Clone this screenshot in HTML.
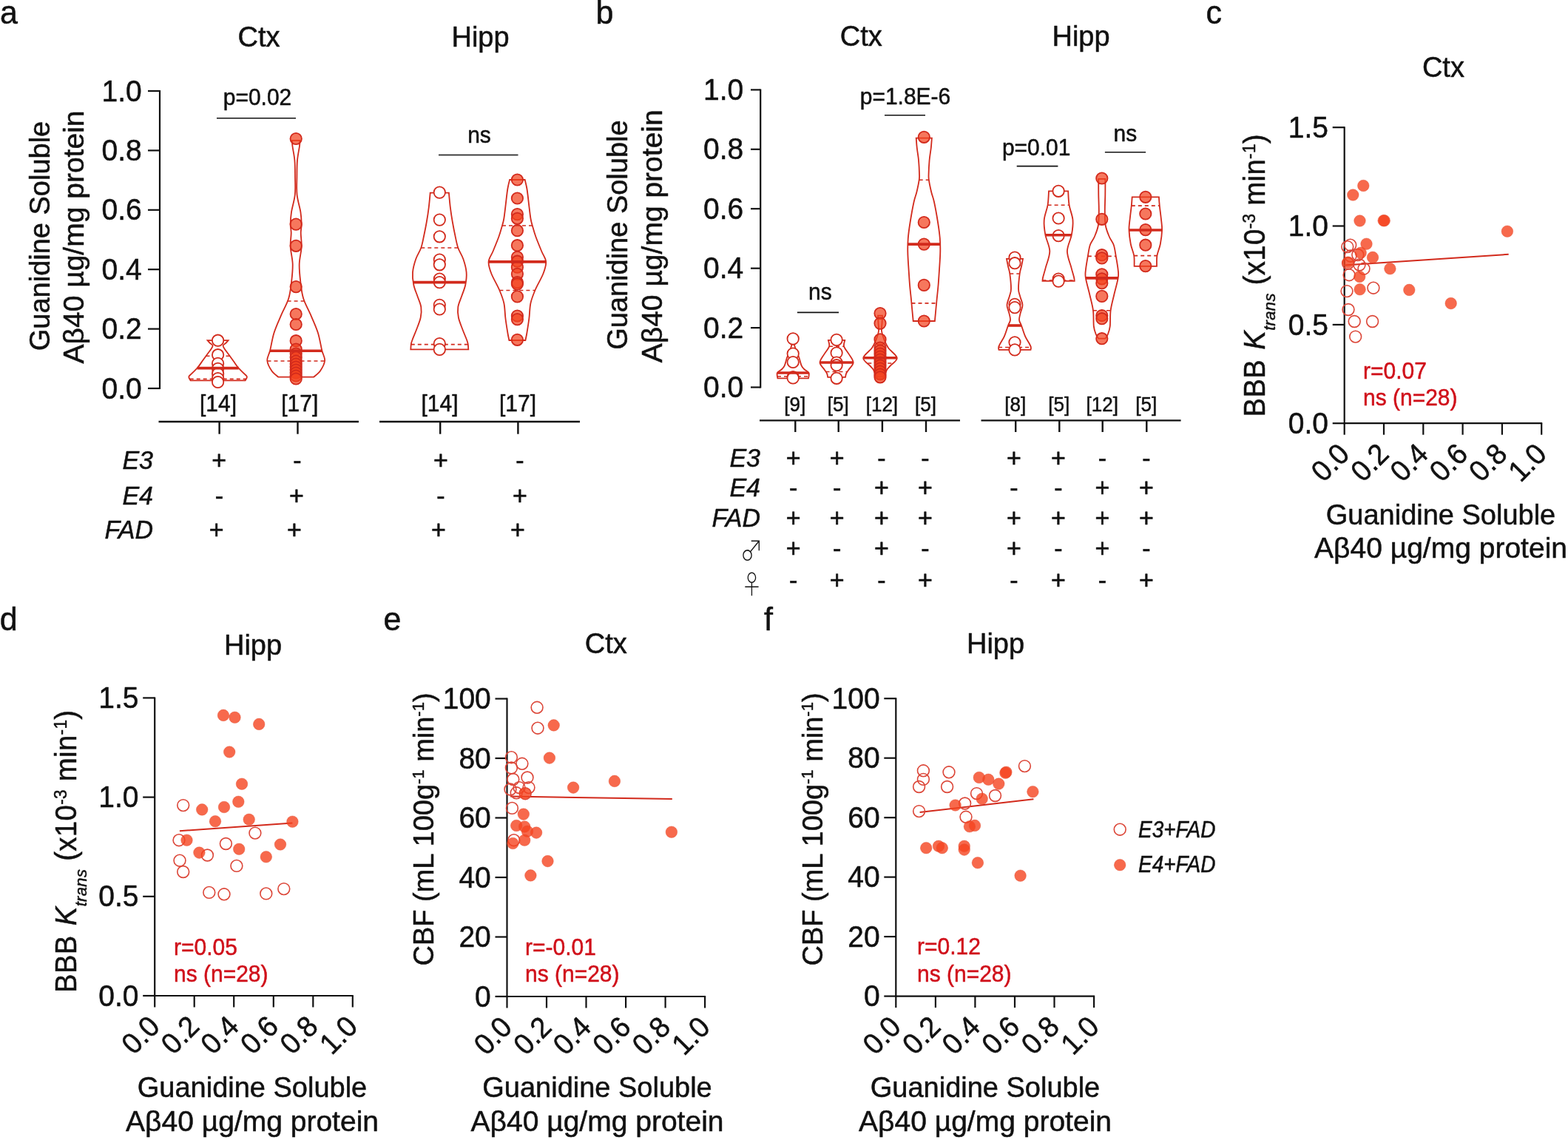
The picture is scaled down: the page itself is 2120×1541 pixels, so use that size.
<!DOCTYPE html>
<html><head><meta charset="utf-8"><title>Figure</title>
<style>html,body{margin:0;padding:0;background:#fff;} svg{display:block;} text{stroke-width:0.5px;stroke-linejoin:round;}</style></head>
<body>
<svg width="2120" height="1541" viewBox="0 0 2120 1541" font-family="'Liberation Sans', Arial, sans-serif">
<rect width="2120" height="1541" fill="#fff"/>
<text transform="translate(0.0,32.0) scale(1,1.04)" font-size="43" text-anchor="start" fill="#111" stroke="#111" >a</text>
<text transform="translate(350.0,62.5) scale(1,1.04)" font-size="38" text-anchor="middle" fill="#111" stroke="#111" >Ctx</text>
<text transform="translate(649.5,63.3) scale(1,1.04)" font-size="38" text-anchor="middle" fill="#111" stroke="#111" >Hipp</text>
<line x1="216.0" y1="122.0" x2="216.0" y2="526.0" stroke="#111" stroke-width="2.2" />
<line x1="200.0" y1="525.0" x2="216.0" y2="525.0" stroke="#111" stroke-width="2.2" />
<text transform="translate(191.8,538.6) scale(1,1.04)" font-size="39" text-anchor="end" fill="#111" stroke="#111" >0.0</text>
<line x1="200.0" y1="444.6" x2="216.0" y2="444.6" stroke="#111" stroke-width="2.2" />
<text transform="translate(191.8,458.2) scale(1,1.04)" font-size="39" text-anchor="end" fill="#111" stroke="#111" >0.2</text>
<line x1="200.0" y1="364.2" x2="216.0" y2="364.2" stroke="#111" stroke-width="2.2" />
<text transform="translate(191.8,377.8) scale(1,1.04)" font-size="39" text-anchor="end" fill="#111" stroke="#111" >0.4</text>
<line x1="200.0" y1="283.8" x2="216.0" y2="283.8" stroke="#111" stroke-width="2.2" />
<text transform="translate(191.8,297.4) scale(1,1.04)" font-size="39" text-anchor="end" fill="#111" stroke="#111" >0.6</text>
<line x1="200.0" y1="203.4" x2="216.0" y2="203.4" stroke="#111" stroke-width="2.2" />
<text transform="translate(191.8,217.0) scale(1,1.04)" font-size="39" text-anchor="end" fill="#111" stroke="#111" >0.8</text>
<line x1="200.0" y1="123.0" x2="216.0" y2="123.0" stroke="#111" stroke-width="2.2" />
<text transform="translate(191.8,136.6) scale(1,1.04)" font-size="39" text-anchor="end" fill="#111" stroke="#111" >1.0</text>
<text transform="translate(67.0,319.0) rotate(-90) scale(1,1.04)" font-size="38" text-anchor="middle" fill="#111" stroke="#111" >Guanidine Soluble</text>
<text transform="translate(113.0,320.5) rotate(-90) scale(1,1.04)" font-size="38" text-anchor="middle" fill="#111" stroke="#111" textLength="342" lengthAdjust="spacingAndGlyphs">Aβ40 µg/mg protein</text>
<line x1="214.5" y1="570.0" x2="485.0" y2="570.0" stroke="#111" stroke-width="2.4" />
<line x1="513.0" y1="570.0" x2="784.0" y2="570.0" stroke="#111" stroke-width="2.4" />
<line x1="296.6" y1="570.0" x2="296.6" y2="586.7" stroke="#111" stroke-width="2.4" />
<line x1="402.5" y1="570.0" x2="402.5" y2="586.7" stroke="#111" stroke-width="2.4" />
<line x1="595.2" y1="570.0" x2="595.2" y2="586.7" stroke="#111" stroke-width="2.4" />
<line x1="700.4" y1="570.0" x2="700.4" y2="586.7" stroke="#111" stroke-width="2.4" />
<text transform="translate(295.0,555.8) scale(1,1.04)" font-size="30" text-anchor="middle" fill="#111" stroke="#111" >[14]</text>
<text transform="translate(405.3,555.8) scale(1,1.04)" font-size="30" text-anchor="middle" fill="#111" stroke="#111" >[17]</text>
<text transform="translate(594.5,555.8) scale(1,1.04)" font-size="30" text-anchor="middle" fill="#111" stroke="#111" >[14]</text>
<text transform="translate(700.0,555.8) scale(1,1.04)" font-size="30" text-anchor="middle" fill="#111" stroke="#111" >[17]</text>
<text transform="translate(348.0,142.0) scale(1,1.04)" font-size="30" text-anchor="middle" fill="#111" stroke="#111" >p=0.02</text>
<line x1="293.0" y1="159.8" x2="400.0" y2="159.8" stroke="#111" stroke-width="1.6" />
<text transform="translate(648.0,192.5) scale(1,1.04)" font-size="30" text-anchor="middle" fill="#111" stroke="#111" >ns</text>
<line x1="593.0" y1="209.5" x2="700.5" y2="209.5" stroke="#111" stroke-width="1.6" />
<text transform="translate(207.0,634.4) scale(1,1.04)" font-size="34" text-anchor="end" fill="#111" stroke="#111" font-style="italic" >E3</text>
<text transform="translate(207.0,681.8) scale(1,1.04)" font-size="34" text-anchor="end" fill="#111" stroke="#111" font-style="italic" >E4</text>
<text transform="translate(207.0,728.2) scale(1,1.04)" font-size="34" text-anchor="end" fill="#111" stroke="#111" font-style="italic" >FAD</text>
<text transform="translate(296.2,634.4) scale(1,1.04)" font-size="34" text-anchor="middle" fill="#111" stroke="#111" style="stroke-width:0.6px">+</text>
<text transform="translate(402.0,634.4) scale(1,1.04)" font-size="34" text-anchor="middle" fill="#111" stroke="#111" style="stroke-width:0.6px">-</text>
<text transform="translate(596.0,634.4) scale(1,1.04)" font-size="34" text-anchor="middle" fill="#111" stroke="#111" style="stroke-width:0.6px">+</text>
<text transform="translate(703.0,634.4) scale(1,1.04)" font-size="34" text-anchor="middle" fill="#111" stroke="#111" style="stroke-width:0.6px">-</text>
<text transform="translate(296.5,681.8) scale(1,1.04)" font-size="34" text-anchor="middle" fill="#111" stroke="#111" style="stroke-width:0.6px">-</text>
<text transform="translate(401.0,681.8) scale(1,1.04)" font-size="34" text-anchor="middle" fill="#111" stroke="#111" style="stroke-width:0.6px">+</text>
<text transform="translate(596.0,681.8) scale(1,1.04)" font-size="34" text-anchor="middle" fill="#111" stroke="#111" style="stroke-width:0.6px">-</text>
<text transform="translate(703.0,681.8) scale(1,1.04)" font-size="34" text-anchor="middle" fill="#111" stroke="#111" style="stroke-width:0.6px">+</text>
<text transform="translate(292.7,728.2) scale(1,1.04)" font-size="34" text-anchor="middle" fill="#111" stroke="#111" style="stroke-width:0.6px">+</text>
<text transform="translate(398.0,728.2) scale(1,1.04)" font-size="34" text-anchor="middle" fill="#111" stroke="#111" style="stroke-width:0.6px">+</text>
<text transform="translate(593.0,728.2) scale(1,1.04)" font-size="34" text-anchor="middle" fill="#111" stroke="#111" style="stroke-width:0.6px">+</text>
<text transform="translate(700.0,728.2) scale(1,1.04)" font-size="34" text-anchor="middle" fill="#111" stroke="#111" style="stroke-width:0.6px">+</text>
<path d="M308.6,460.2 C308.1,460.8 306.8,462.3 305.6,463.5 C304.4,464.7 301.8,465.6 301.6,467.2 C301.4,468.8 303.3,470.9 304.6,473.0 C305.9,475.1 307.8,477.2 309.6,479.7 C311.4,482.2 313.6,485.1 315.6,488.0 C317.7,490.9 319.6,494.0 321.9,496.8 C324.2,499.6 327.6,502.5 329.6,504.6 C331.6,506.7 333.6,507.7 333.9,509.3 C334.2,510.9 332.0,513.5 331.6,514.3 L257.6,514.3 C257.2,513.5 255.0,510.9 255.3,509.3 C255.6,507.7 257.6,506.7 259.6,504.6 C261.6,502.5 265.0,499.6 267.3,496.8 C269.6,494.0 271.6,490.9 273.6,488.0 C275.7,485.1 277.8,482.2 279.6,479.7 C281.4,477.2 283.3,475.1 284.6,473.0 C285.9,470.9 287.8,468.8 287.6,467.2 C287.4,465.6 284.8,464.7 283.6,463.5 C282.4,462.3 281.1,460.8 280.6,460.2 Z" fill="none" stroke="#D22A1C" stroke-width="1.8"/>
<line x1="278.5" y1="481.2" x2="310.7" y2="481.2" stroke="#D22A1C" stroke-width="1.6" stroke-dasharray="5,4"/>
<line x1="256.7" y1="512.4" x2="332.5" y2="512.4" stroke="#D22A1C" stroke-width="1.6" stroke-dasharray="5,4"/>
<circle cx="294.6" cy="460.2" r="7.7" fill="#fff" stroke="#D22A1C" stroke-width="1.8"/>
<circle cx="294.6" cy="479.7" r="7.7" fill="#fff" stroke="#D22A1C" stroke-width="1.8"/>
<circle cx="294.6" cy="491.4" r="7.7" fill="#fff" stroke="#D22A1C" stroke-width="1.8"/>
<circle cx="294.6" cy="498.4" r="7.7" fill="#fff" stroke="#D22A1C" stroke-width="1.8"/>
<circle cx="294.6" cy="505.0" r="7.7" fill="#fff" stroke="#D22A1C" stroke-width="1.8"/>
<circle cx="294.6" cy="511.6" r="7.7" fill="#fff" stroke="#D22A1C" stroke-width="1.8"/>
<circle cx="294.6" cy="516.5" r="7.7" fill="#fff" stroke="#D22A1C" stroke-width="1.8"/>
<line x1="266.5" y1="497.6" x2="322.7" y2="497.6" stroke="#D22A1C" stroke-width="3.6" />
<path d="M405.5,189.8 C405.4,191.2 405.5,193.5 404.9,198.0 C404.3,202.5 402.6,209.7 402.0,216.7 C401.4,223.7 401.5,232.2 401.4,240.0 C401.3,247.8 400.8,255.6 401.6,263.4 C402.4,271.2 405.4,280.1 406.4,286.7 C407.4,293.3 407.6,298.3 407.7,303.0 C407.8,307.7 406.7,309.7 406.7,314.8 C406.7,319.9 408.0,326.4 407.7,333.4 C407.4,340.4 404.9,349.0 404.7,356.8 C404.4,364.6 405.3,372.2 406.2,380.0 C407.1,387.8 407.8,395.7 410.2,403.5 C412.6,411.3 417.3,419.0 420.6,426.8 C423.9,434.6 427.6,442.4 430.0,450.2 C432.4,458.0 433.7,467.3 435.2,473.5 C436.7,479.7 439.5,482.8 439.1,487.5 C438.7,492.2 435.4,497.8 432.9,501.5 C430.4,505.2 425.6,508.3 424.2,509.7 L376.2,509.7 C374.8,508.3 370.0,505.2 367.5,501.5 C365.0,497.8 361.7,492.2 361.3,487.5 C360.9,482.8 363.7,479.7 365.2,473.5 C366.7,467.3 368.0,458.0 370.4,450.2 C372.8,442.4 376.5,434.6 379.8,426.8 C383.1,419.0 387.8,411.3 390.2,403.5 C392.6,395.7 393.3,387.8 394.2,380.0 C395.1,372.2 395.9,364.6 395.7,356.8 C395.4,349.0 393.0,340.4 392.7,333.4 C392.4,326.4 393.7,319.9 393.7,314.8 C393.7,309.7 392.6,307.7 392.7,303.0 C392.8,298.3 393.0,293.3 394.0,286.7 C395.0,280.1 398.0,271.2 398.8,263.4 C399.6,255.6 399.1,247.8 399.0,240.0 C398.9,232.2 399.0,223.7 398.4,216.7 C397.8,209.7 396.1,202.5 395.5,198.0 C394.9,193.5 395.0,191.2 394.9,189.8 Z" fill="none" stroke="#D22A1C" stroke-width="1.8"/>
<line x1="388.6" y1="407.0" x2="411.8" y2="407.0" stroke="#D22A1C" stroke-width="1.6" stroke-dasharray="5,4"/>
<line x1="361.5" y1="488.0" x2="438.9" y2="488.0" stroke="#D22A1C" stroke-width="1.6" stroke-dasharray="5,4"/>
<circle cx="400.2" cy="187.5" r="7.7" fill="#F3421F" fill-opacity="0.72" stroke="#D22A1C" stroke-width="1.8"/>
<circle cx="400.2" cy="303.1" r="7.7" fill="#F3421F" fill-opacity="0.72" stroke="#D22A1C" stroke-width="1.8"/>
<circle cx="400.2" cy="332.3" r="7.7" fill="#F3421F" fill-opacity="0.72" stroke="#D22A1C" stroke-width="1.8"/>
<circle cx="400.2" cy="387.6" r="7.7" fill="#F3421F" fill-opacity="0.72" stroke="#D22A1C" stroke-width="1.8"/>
<circle cx="400.2" cy="424.5" r="7.7" fill="#F3421F" fill-opacity="0.72" stroke="#D22A1C" stroke-width="1.8"/>
<circle cx="400.2" cy="438.5" r="7.7" fill="#F3421F" fill-opacity="0.72" stroke="#D22A1C" stroke-width="1.8"/>
<circle cx="400.2" cy="460.7" r="7.7" fill="#F3421F" fill-opacity="0.72" stroke="#D22A1C" stroke-width="1.8"/>
<circle cx="400.2" cy="472.0" r="7.7" fill="#F3421F" fill-opacity="0.72" stroke="#D22A1C" stroke-width="1.8"/>
<circle cx="400.2" cy="478.0" r="7.7" fill="#F3421F" fill-opacity="0.72" stroke="#D22A1C" stroke-width="1.8"/>
<circle cx="400.2" cy="483.0" r="7.7" fill="#F3421F" fill-opacity="0.72" stroke="#D22A1C" stroke-width="1.8"/>
<circle cx="400.2" cy="488.0" r="7.7" fill="#F3421F" fill-opacity="0.72" stroke="#D22A1C" stroke-width="1.8"/>
<circle cx="400.2" cy="492.0" r="7.7" fill="#F3421F" fill-opacity="0.72" stroke="#D22A1C" stroke-width="1.8"/>
<circle cx="400.2" cy="496.0" r="7.7" fill="#F3421F" fill-opacity="0.72" stroke="#D22A1C" stroke-width="1.8"/>
<circle cx="400.2" cy="500.0" r="7.7" fill="#F3421F" fill-opacity="0.72" stroke="#D22A1C" stroke-width="1.8"/>
<circle cx="400.2" cy="504.0" r="7.7" fill="#F3421F" fill-opacity="0.72" stroke="#D22A1C" stroke-width="1.8"/>
<circle cx="400.2" cy="508.0" r="7.7" fill="#F3421F" fill-opacity="0.72" stroke="#D22A1C" stroke-width="1.8"/>
<circle cx="400.2" cy="512.0" r="7.7" fill="#F3421F" fill-opacity="0.72" stroke="#D22A1C" stroke-width="1.8"/>
<line x1="365.0" y1="474.2" x2="435.4" y2="474.2" stroke="#D22A1C" stroke-width="3.6" />
<path d="M606.9,260.6 C607.2,263.8 608.0,273.4 608.8,280.0 C609.6,286.6 610.7,293.7 611.8,300.0 C612.9,306.3 614.0,312.2 615.3,318.0 C616.5,323.8 617.5,329.7 619.3,335.0 C621.1,340.3 624.4,344.5 626.3,350.0 C628.2,355.5 630.1,362.2 630.6,368.0 C631.1,373.8 630.3,379.7 629.3,385.0 C628.2,390.3 626.0,395.0 624.3,400.0 C622.6,405.0 620.0,410.1 619.3,415.0 C618.6,419.9 618.9,424.3 619.9,429.3 C620.9,434.3 623.4,439.9 625.3,445.0 C627.2,450.1 630.0,456.6 631.3,460.0 C632.5,463.4 632.5,463.5 632.8,465.6 C633.1,467.7 633.2,471.3 633.3,472.4 L555.3,472.4 C555.4,471.3 555.5,467.7 555.8,465.6 C556.1,463.5 556.0,463.4 557.3,460.0 C558.5,456.6 561.4,450.1 563.3,445.0 C565.2,439.9 567.7,434.3 568.7,429.3 C569.7,424.3 570.0,419.9 569.3,415.0 C568.6,410.1 566.0,405.0 564.3,400.0 C562.6,395.0 560.3,390.3 559.3,385.0 C558.2,379.7 557.5,373.8 558.0,368.0 C558.5,362.2 560.4,355.5 562.3,350.0 C564.2,344.5 567.5,340.3 569.3,335.0 C571.1,329.7 572.0,323.8 573.3,318.0 C574.5,312.2 575.7,306.3 576.8,300.0 C577.9,293.7 579.0,286.6 579.8,280.0 C580.6,273.4 581.4,263.8 581.7,260.6 Z" fill="none" stroke="#D22A1C" stroke-width="1.8"/>
<line x1="569.3" y1="335.0" x2="619.3" y2="335.0" stroke="#D22A1C" stroke-width="1.6" stroke-dasharray="5,4"/>
<line x1="555.8" y1="465.6" x2="632.8" y2="465.6" stroke="#D22A1C" stroke-width="1.6" stroke-dasharray="5,4"/>
<circle cx="594.3" cy="260.1" r="7.7" fill="#fff" stroke="#D22A1C" stroke-width="1.8"/>
<circle cx="594.3" cy="297.1" r="7.7" fill="#fff" stroke="#D22A1C" stroke-width="1.8"/>
<circle cx="594.3" cy="319.8" r="7.7" fill="#fff" stroke="#D22A1C" stroke-width="1.8"/>
<circle cx="594.3" cy="351.0" r="7.7" fill="#fff" stroke="#D22A1C" stroke-width="1.8"/>
<circle cx="594.3" cy="357.8" r="7.7" fill="#fff" stroke="#D22A1C" stroke-width="1.8"/>
<circle cx="594.3" cy="377.0" r="7.7" fill="#fff" stroke="#D22A1C" stroke-width="1.8"/>
<circle cx="594.3" cy="381.6" r="7.7" fill="#fff" stroke="#D22A1C" stroke-width="1.8"/>
<circle cx="594.3" cy="412.3" r="7.7" fill="#fff" stroke="#D22A1C" stroke-width="1.8"/>
<circle cx="594.3" cy="418.0" r="7.7" fill="#fff" stroke="#D22A1C" stroke-width="1.8"/>
<circle cx="594.3" cy="464.5" r="7.7" fill="#fff" stroke="#D22A1C" stroke-width="1.8"/>
<circle cx="594.3" cy="472.4" r="7.7" fill="#fff" stroke="#D22A1C" stroke-width="1.8"/>
<line x1="559.0" y1="381.6" x2="629.6" y2="381.6" stroke="#D22A1C" stroke-width="3.6" />
<path d="M709.7,243.0 C710.1,245.0 711.5,249.7 712.4,255.0 C713.3,260.3 714.1,268.3 714.9,275.0 C715.7,281.7 716.6,290.0 717.4,295.0 C718.2,300.0 718.6,300.8 719.8,305.0 C721.0,309.2 722.3,314.2 724.4,320.0 C726.5,325.8 730.1,334.4 732.4,340.0 C734.7,345.6 737.9,348.9 738.2,353.9 C738.5,358.9 736.9,363.6 734.4,370.0 C731.9,376.4 726.2,385.8 723.4,392.5 C720.6,399.2 718.7,403.8 717.4,410.0 C716.1,416.2 716.2,423.3 715.4,430.0 C714.6,436.7 713.2,445.0 712.4,450.0 C711.6,455.0 710.7,458.3 710.4,460.0 L688.4,460.0 C688.1,458.3 687.2,455.0 686.4,450.0 C685.6,445.0 684.2,436.7 683.4,430.0 C682.6,423.3 682.7,416.2 681.4,410.0 C680.1,403.8 678.2,399.2 675.4,392.5 C672.6,385.8 666.9,376.4 664.4,370.0 C661.9,363.6 660.3,358.9 660.6,353.9 C660.9,348.9 664.1,345.6 666.4,340.0 C668.7,334.4 672.3,325.8 674.4,320.0 C676.5,314.2 677.8,309.2 679.0,305.0 C680.2,300.8 680.6,300.0 681.4,295.0 C682.2,290.0 683.1,281.7 683.9,275.0 C684.7,268.3 685.5,260.3 686.4,255.0 C687.3,249.7 688.6,245.0 689.1,243.0 Z" fill="none" stroke="#D22A1C" stroke-width="1.8"/>
<line x1="679.0" y1="305.0" x2="719.8" y2="305.0" stroke="#D22A1C" stroke-width="1.6" stroke-dasharray="5,4"/>
<line x1="675.4" y1="392.5" x2="723.4" y2="392.5" stroke="#D22A1C" stroke-width="1.6" stroke-dasharray="5,4"/>
<circle cx="699.4" cy="243.0" r="7.7" fill="#F3421F" fill-opacity="0.72" stroke="#D22A1C" stroke-width="1.8"/>
<circle cx="699.4" cy="268.0" r="7.7" fill="#F3421F" fill-opacity="0.72" stroke="#D22A1C" stroke-width="1.8"/>
<circle cx="699.4" cy="289.6" r="7.7" fill="#F3421F" fill-opacity="0.72" stroke="#D22A1C" stroke-width="1.8"/>
<circle cx="699.4" cy="295.3" r="7.7" fill="#F3421F" fill-opacity="0.72" stroke="#D22A1C" stroke-width="1.8"/>
<circle cx="699.4" cy="311.7" r="7.7" fill="#F3421F" fill-opacity="0.72" stroke="#D22A1C" stroke-width="1.8"/>
<circle cx="699.4" cy="331.7" r="7.7" fill="#F3421F" fill-opacity="0.72" stroke="#D22A1C" stroke-width="1.8"/>
<circle cx="699.4" cy="347.5" r="7.7" fill="#F3421F" fill-opacity="0.72" stroke="#D22A1C" stroke-width="1.8"/>
<circle cx="699.4" cy="353.2" r="7.7" fill="#F3421F" fill-opacity="0.72" stroke="#D22A1C" stroke-width="1.8"/>
<circle cx="699.4" cy="361.2" r="7.7" fill="#F3421F" fill-opacity="0.72" stroke="#D22A1C" stroke-width="1.8"/>
<circle cx="699.4" cy="370.3" r="7.7" fill="#F3421F" fill-opacity="0.72" stroke="#D22A1C" stroke-width="1.8"/>
<circle cx="699.4" cy="381.6" r="7.7" fill="#F3421F" fill-opacity="0.72" stroke="#D22A1C" stroke-width="1.8"/>
<circle cx="699.4" cy="383.9" r="7.7" fill="#F3421F" fill-opacity="0.72" stroke="#D22A1C" stroke-width="1.8"/>
<circle cx="699.4" cy="400.9" r="7.7" fill="#F3421F" fill-opacity="0.72" stroke="#D22A1C" stroke-width="1.8"/>
<circle cx="699.4" cy="427.0" r="7.7" fill="#F3421F" fill-opacity="0.72" stroke="#D22A1C" stroke-width="1.8"/>
<circle cx="699.4" cy="431.6" r="7.7" fill="#F3421F" fill-opacity="0.72" stroke="#D22A1C" stroke-width="1.8"/>
<circle cx="699.4" cy="459.3" r="7.7" fill="#F3421F" fill-opacity="0.72" stroke="#D22A1C" stroke-width="1.8"/>
<line x1="660.6" y1="353.9" x2="738.2" y2="353.9" stroke="#D22A1C" stroke-width="3.6" />
<text transform="translate(805.5,32.4) scale(1,1.04)" font-size="43" text-anchor="start" fill="#111" stroke="#111" >b</text>
<text transform="translate(1164.3,62.3) scale(1,1.04)" font-size="38" text-anchor="middle" fill="#111" stroke="#111" >Ctx</text>
<text transform="translate(1461.5,62.3) scale(1,1.04)" font-size="38" text-anchor="middle" fill="#111" stroke="#111" >Hipp</text>
<line x1="1028.2" y1="120.4" x2="1028.2" y2="524.5" stroke="#111" stroke-width="2.2" />
<line x1="1015.0" y1="523.5" x2="1028.2" y2="523.5" stroke="#111" stroke-width="2.2" />
<text transform="translate(1005.3,537.1) scale(1,1.04)" font-size="39" text-anchor="end" fill="#111" stroke="#111" >0.0</text>
<line x1="1015.0" y1="443.1" x2="1028.2" y2="443.1" stroke="#111" stroke-width="2.2" />
<text transform="translate(1005.3,456.7) scale(1,1.04)" font-size="39" text-anchor="end" fill="#111" stroke="#111" >0.2</text>
<line x1="1015.0" y1="362.7" x2="1028.2" y2="362.7" stroke="#111" stroke-width="2.2" />
<text transform="translate(1005.3,376.3) scale(1,1.04)" font-size="39" text-anchor="end" fill="#111" stroke="#111" >0.4</text>
<line x1="1015.0" y1="282.2" x2="1028.2" y2="282.2" stroke="#111" stroke-width="2.2" />
<text transform="translate(1005.3,295.8) scale(1,1.04)" font-size="39" text-anchor="end" fill="#111" stroke="#111" >0.6</text>
<line x1="1015.0" y1="201.8" x2="1028.2" y2="201.8" stroke="#111" stroke-width="2.2" />
<text transform="translate(1005.3,215.4) scale(1,1.04)" font-size="39" text-anchor="end" fill="#111" stroke="#111" >0.8</text>
<line x1="1015.0" y1="121.4" x2="1028.2" y2="121.4" stroke="#111" stroke-width="2.2" />
<text transform="translate(1005.3,135.0) scale(1,1.04)" font-size="39" text-anchor="end" fill="#111" stroke="#111" >1.0</text>
<text transform="translate(847.6,317.6) rotate(-90) scale(1,1.04)" font-size="38" text-anchor="middle" fill="#111" stroke="#111" >Guanidine Soluble</text>
<text transform="translate(895.0,319.3) rotate(-90) scale(1,1.04)" font-size="38" text-anchor="middle" fill="#111" stroke="#111" textLength="342" lengthAdjust="spacingAndGlyphs">Aβ40 µg/mg protein</text>
<line x1="1027.0" y1="568.4" x2="1298.0" y2="568.4" stroke="#111" stroke-width="2.4" />
<line x1="1326.5" y1="568.4" x2="1596.6" y2="568.4" stroke="#111" stroke-width="2.4" />
<line x1="1075.3" y1="568.4" x2="1075.3" y2="584.0" stroke="#111" stroke-width="2.4" />
<line x1="1133.7" y1="568.4" x2="1133.7" y2="584.0" stroke="#111" stroke-width="2.4" />
<line x1="1192.9" y1="568.4" x2="1192.9" y2="584.0" stroke="#111" stroke-width="2.4" />
<line x1="1252.0" y1="568.4" x2="1252.0" y2="584.0" stroke="#111" stroke-width="2.4" />
<line x1="1373.2" y1="568.4" x2="1373.2" y2="584.0" stroke="#111" stroke-width="2.4" />
<line x1="1432.3" y1="568.4" x2="1432.3" y2="584.0" stroke="#111" stroke-width="2.4" />
<line x1="1490.7" y1="568.4" x2="1490.7" y2="584.0" stroke="#111" stroke-width="2.4" />
<line x1="1550.3" y1="568.4" x2="1550.3" y2="584.0" stroke="#111" stroke-width="2.4" />
<text transform="translate(1074.8,555.5) scale(1,1.04)" font-size="26" text-anchor="middle" fill="#111" stroke="#111" >[9]</text>
<text transform="translate(1133.2,555.5) scale(1,1.04)" font-size="26" text-anchor="middle" fill="#111" stroke="#111" >[5]</text>
<text transform="translate(1192.4,555.5) scale(1,1.04)" font-size="26" text-anchor="middle" fill="#111" stroke="#111" >[12]</text>
<text transform="translate(1251.5,555.5) scale(1,1.04)" font-size="26" text-anchor="middle" fill="#111" stroke="#111" >[5]</text>
<text transform="translate(1372.7,555.5) scale(1,1.04)" font-size="26" text-anchor="middle" fill="#111" stroke="#111" >[8]</text>
<text transform="translate(1431.8,555.5) scale(1,1.04)" font-size="26" text-anchor="middle" fill="#111" stroke="#111" >[5]</text>
<text transform="translate(1490.2,555.5) scale(1,1.04)" font-size="26" text-anchor="middle" fill="#111" stroke="#111" >[12]</text>
<text transform="translate(1549.8,555.5) scale(1,1.04)" font-size="26" text-anchor="middle" fill="#111" stroke="#111" >[5]</text>
<text transform="translate(1224.0,141.0) scale(1,1.04)" font-size="30" text-anchor="middle" fill="#111" stroke="#111" >p=1.8E-6</text>
<line x1="1196.0" y1="155.7" x2="1251.0" y2="155.7" stroke="#111" stroke-width="1.6" />
<text transform="translate(1108.8,404.9) scale(1,1.04)" font-size="30" text-anchor="middle" fill="#111" stroke="#111" >ns</text>
<line x1="1077.9" y1="422.4" x2="1134.0" y2="422.4" stroke="#111" stroke-width="1.6" />
<text transform="translate(1401.2,210.2) scale(1,1.04)" font-size="30" text-anchor="middle" fill="#111" stroke="#111" >p=0.01</text>
<line x1="1374.7" y1="224.6" x2="1430.4" y2="224.6" stroke="#111" stroke-width="1.6" />
<text transform="translate(1521.3,190.7) scale(1,1.04)" font-size="30" text-anchor="middle" fill="#111" stroke="#111" >ns</text>
<line x1="1493.9" y1="205.8" x2="1549.1" y2="205.8" stroke="#111" stroke-width="1.6" />
<text transform="translate(1028.0,631.3) scale(1,1.04)" font-size="34" text-anchor="end" fill="#111" stroke="#111" font-style="italic" >E3</text>
<text transform="translate(1028.0,671.1) scale(1,1.04)" font-size="34" text-anchor="end" fill="#111" stroke="#111" font-style="italic" >E4</text>
<text transform="translate(1028.0,712.2) scale(1,1.04)" font-size="34" text-anchor="end" fill="#111" stroke="#111" font-style="italic" >FAD</text>
<text transform="translate(1000.6,757.7) scale(0.92,1.1)" font-size="34" font-family="Noto Serif CJK SC, serif" fill="#111">♂</text>
<text transform="translate(1001.9,802.8) scale(0.85,1.03)" font-size="34" font-family="Noto Serif CJK SC, serif" fill="#111">♀</text>
<text transform="translate(1072.6,631.3) scale(1,1.04)" font-size="34" text-anchor="middle" fill="#111" stroke="#111" style="stroke-width:0.6px">+</text>
<text transform="translate(1131.7,631.3) scale(1,1.04)" font-size="34" text-anchor="middle" fill="#111" stroke="#111" style="stroke-width:0.6px">+</text>
<text transform="translate(1191.8,631.3) scale(1,1.04)" font-size="34" text-anchor="middle" fill="#111" stroke="#111" style="stroke-width:0.6px">-</text>
<text transform="translate(1250.9,631.3) scale(1,1.04)" font-size="34" text-anchor="middle" fill="#111" stroke="#111" style="stroke-width:0.6px">-</text>
<text transform="translate(1371.0,631.3) scale(1,1.04)" font-size="34" text-anchor="middle" fill="#111" stroke="#111" style="stroke-width:0.6px">+</text>
<text transform="translate(1431.0,631.3) scale(1,1.04)" font-size="34" text-anchor="middle" fill="#111" stroke="#111" style="stroke-width:0.6px">+</text>
<text transform="translate(1490.5,631.3) scale(1,1.04)" font-size="34" text-anchor="middle" fill="#111" stroke="#111" style="stroke-width:0.6px">-</text>
<text transform="translate(1549.9,631.3) scale(1,1.04)" font-size="34" text-anchor="middle" fill="#111" stroke="#111" style="stroke-width:0.6px">-</text>
<text transform="translate(1072.6,671.1) scale(1,1.04)" font-size="34" text-anchor="middle" fill="#111" stroke="#111" style="stroke-width:0.6px">-</text>
<text transform="translate(1131.7,671.1) scale(1,1.04)" font-size="34" text-anchor="middle" fill="#111" stroke="#111" style="stroke-width:0.6px">-</text>
<text transform="translate(1191.8,671.1) scale(1,1.04)" font-size="34" text-anchor="middle" fill="#111" stroke="#111" style="stroke-width:0.6px">+</text>
<text transform="translate(1250.9,671.1) scale(1,1.04)" font-size="34" text-anchor="middle" fill="#111" stroke="#111" style="stroke-width:0.6px">+</text>
<text transform="translate(1371.0,671.1) scale(1,1.04)" font-size="34" text-anchor="middle" fill="#111" stroke="#111" style="stroke-width:0.6px">-</text>
<text transform="translate(1431.0,671.1) scale(1,1.04)" font-size="34" text-anchor="middle" fill="#111" stroke="#111" style="stroke-width:0.6px">-</text>
<text transform="translate(1490.5,671.1) scale(1,1.04)" font-size="34" text-anchor="middle" fill="#111" stroke="#111" style="stroke-width:0.6px">+</text>
<text transform="translate(1549.9,671.1) scale(1,1.04)" font-size="34" text-anchor="middle" fill="#111" stroke="#111" style="stroke-width:0.6px">+</text>
<text transform="translate(1072.6,712.2) scale(1,1.04)" font-size="34" text-anchor="middle" fill="#111" stroke="#111" style="stroke-width:0.6px">+</text>
<text transform="translate(1131.7,712.2) scale(1,1.04)" font-size="34" text-anchor="middle" fill="#111" stroke="#111" style="stroke-width:0.6px">+</text>
<text transform="translate(1191.8,712.2) scale(1,1.04)" font-size="34" text-anchor="middle" fill="#111" stroke="#111" style="stroke-width:0.6px">+</text>
<text transform="translate(1250.9,712.2) scale(1,1.04)" font-size="34" text-anchor="middle" fill="#111" stroke="#111" style="stroke-width:0.6px">+</text>
<text transform="translate(1371.0,712.2) scale(1,1.04)" font-size="34" text-anchor="middle" fill="#111" stroke="#111" style="stroke-width:0.6px">+</text>
<text transform="translate(1431.0,712.2) scale(1,1.04)" font-size="34" text-anchor="middle" fill="#111" stroke="#111" style="stroke-width:0.6px">+</text>
<text transform="translate(1490.5,712.2) scale(1,1.04)" font-size="34" text-anchor="middle" fill="#111" stroke="#111" style="stroke-width:0.6px">+</text>
<text transform="translate(1549.9,712.2) scale(1,1.04)" font-size="34" text-anchor="middle" fill="#111" stroke="#111" style="stroke-width:0.6px">+</text>
<text transform="translate(1072.6,752.5) scale(1,1.04)" font-size="34" text-anchor="middle" fill="#111" stroke="#111" style="stroke-width:0.6px">+</text>
<text transform="translate(1131.7,752.5) scale(1,1.04)" font-size="34" text-anchor="middle" fill="#111" stroke="#111" style="stroke-width:0.6px">-</text>
<text transform="translate(1191.8,752.5) scale(1,1.04)" font-size="34" text-anchor="middle" fill="#111" stroke="#111" style="stroke-width:0.6px">+</text>
<text transform="translate(1250.9,752.5) scale(1,1.04)" font-size="34" text-anchor="middle" fill="#111" stroke="#111" style="stroke-width:0.6px">-</text>
<text transform="translate(1371.0,752.5) scale(1,1.04)" font-size="34" text-anchor="middle" fill="#111" stroke="#111" style="stroke-width:0.6px">+</text>
<text transform="translate(1431.0,752.5) scale(1,1.04)" font-size="34" text-anchor="middle" fill="#111" stroke="#111" style="stroke-width:0.6px">-</text>
<text transform="translate(1490.5,752.5) scale(1,1.04)" font-size="34" text-anchor="middle" fill="#111" stroke="#111" style="stroke-width:0.6px">+</text>
<text transform="translate(1549.9,752.5) scale(1,1.04)" font-size="34" text-anchor="middle" fill="#111" stroke="#111" style="stroke-width:0.6px">-</text>
<text transform="translate(1072.6,796.2) scale(1,1.04)" font-size="34" text-anchor="middle" fill="#111" stroke="#111" style="stroke-width:0.6px">-</text>
<text transform="translate(1131.7,796.2) scale(1,1.04)" font-size="34" text-anchor="middle" fill="#111" stroke="#111" style="stroke-width:0.6px">+</text>
<text transform="translate(1191.8,796.2) scale(1,1.04)" font-size="34" text-anchor="middle" fill="#111" stroke="#111" style="stroke-width:0.6px">-</text>
<text transform="translate(1250.9,796.2) scale(1,1.04)" font-size="34" text-anchor="middle" fill="#111" stroke="#111" style="stroke-width:0.6px">+</text>
<text transform="translate(1371.0,796.2) scale(1,1.04)" font-size="34" text-anchor="middle" fill="#111" stroke="#111" style="stroke-width:0.6px">-</text>
<text transform="translate(1431.0,796.2) scale(1,1.04)" font-size="34" text-anchor="middle" fill="#111" stroke="#111" style="stroke-width:0.6px">+</text>
<text transform="translate(1490.5,796.2) scale(1,1.04)" font-size="34" text-anchor="middle" fill="#111" stroke="#111" style="stroke-width:0.6px">-</text>
<text transform="translate(1549.9,796.2) scale(1,1.04)" font-size="34" text-anchor="middle" fill="#111" stroke="#111" style="stroke-width:0.6px">+</text>
<path d="M1073.8,465.6 C1074.1,466.7 1075.0,469.9 1075.7,472.0 C1076.4,474.1 1077.4,476.0 1078.2,478.0 C1079.0,480.0 1079.6,481.1 1080.5,483.8 C1081.4,486.5 1082.5,491.7 1083.6,494.2 C1084.7,496.7 1085.6,497.4 1087.2,499.0 C1088.8,500.6 1092.1,502.2 1093.2,503.5 C1094.3,504.8 1093.7,505.7 1093.7,507.0 C1093.7,508.3 1093.1,510.6 1093.0,511.3 L1051.4,511.3 C1051.3,510.6 1050.7,508.3 1050.7,507.0 C1050.7,505.7 1050.1,504.8 1051.2,503.5 C1052.3,502.2 1055.6,500.6 1057.2,499.0 C1058.8,497.4 1059.7,496.7 1060.8,494.2 C1061.9,491.7 1063.0,486.5 1063.9,483.8 C1064.8,481.1 1065.4,480.0 1066.2,478.0 C1067.0,476.0 1068.0,474.1 1068.7,472.0 C1069.4,469.9 1070.3,466.7 1070.6,465.6 Z" fill="none" stroke="#D22A1C" stroke-width="1.8"/>
<line x1="1051.0" y1="508.7" x2="1093.4" y2="508.7" stroke="#D22A1C" stroke-width="1.6" stroke-dasharray="5,4"/>
<circle cx="1072.2" cy="457.9" r="7.7" fill="#fff" stroke="#D22A1C" stroke-width="1.8"/>
<circle cx="1072.2" cy="478.1" r="7.7" fill="#fff" stroke="#D22A1C" stroke-width="1.8"/>
<circle cx="1072.2" cy="489.5" r="7.7" fill="#fff" stroke="#D22A1C" stroke-width="1.8"/>
<circle cx="1072.2" cy="509.5" r="7.7" fill="#fff" stroke="#D22A1C" stroke-width="1.8"/>
<circle cx="1072.2" cy="511.0" r="7.7" fill="#fff" stroke="#D22A1C" stroke-width="1.8"/>
<line x1="1051.1" y1="504.0" x2="1093.3" y2="504.0" stroke="#D22A1C" stroke-width="3.6" />
<path d="M1142.3,459.9 C1142.1,461.3 1140.2,465.1 1141.1,468.2 C1142.0,471.3 1145.6,475.0 1147.7,478.6 C1149.8,482.2 1153.7,486.5 1153.7,490.0 C1153.7,493.5 1149.3,496.9 1147.7,499.4 C1146.1,501.9 1144.9,503.3 1144.1,505.0 C1143.3,506.7 1143.2,509.0 1143.0,509.8 L1119.2,509.8 C1119.0,509.0 1118.9,506.7 1118.1,505.0 C1117.3,503.3 1116.1,501.9 1114.5,499.4 C1112.9,496.9 1108.5,493.5 1108.5,490.0 C1108.5,486.5 1112.4,482.2 1114.5,478.6 C1116.6,475.0 1120.2,471.3 1121.1,468.2 C1122.0,465.1 1120.1,461.3 1119.9,459.9 Z" fill="none" stroke="#D22A1C" stroke-width="1.8"/>
<line x1="1121.1" y1="468.2" x2="1141.1" y2="468.2" stroke="#D22A1C" stroke-width="1.6" stroke-dasharray="5,4"/>
<line x1="1116.5" y1="502.5" x2="1145.7" y2="502.5" stroke="#D22A1C" stroke-width="1.6" stroke-dasharray="5,4"/>
<circle cx="1131.1" cy="459.4" r="7.7" fill="#fff" stroke="#D22A1C" stroke-width="1.8"/>
<circle cx="1131.1" cy="477.0" r="7.7" fill="#fff" stroke="#D22A1C" stroke-width="1.8"/>
<circle cx="1131.1" cy="490.0" r="7.7" fill="#fff" stroke="#D22A1C" stroke-width="1.8"/>
<circle cx="1131.1" cy="493.7" r="7.7" fill="#fff" stroke="#D22A1C" stroke-width="1.8"/>
<circle cx="1131.1" cy="511.3" r="7.7" fill="#fff" stroke="#D22A1C" stroke-width="1.8"/>
<line x1="1108.5" y1="490.0" x2="1153.7" y2="490.0" stroke="#D22A1C" stroke-width="3.6" />
<path d="M1193.0,426.7 C1192.9,428.4 1192.7,433.5 1192.5,437.0 C1192.3,440.5 1191.6,444.0 1192.0,447.5 C1192.4,451.0 1193.5,454.2 1195.0,458.0 C1196.5,461.8 1198.0,466.0 1201.0,470.3 C1204.0,474.6 1212.3,479.8 1212.8,483.8 C1213.3,487.8 1206.3,491.5 1204.0,494.2 C1201.7,496.9 1200.3,497.8 1199.0,500.0 C1197.7,502.2 1197.0,505.7 1196.0,507.7 C1195.0,509.7 1193.5,511.1 1193.0,511.8 L1187.0,511.8 C1186.5,511.1 1185.0,509.7 1184.0,507.7 C1183.0,505.7 1182.3,502.2 1181.0,500.0 C1179.7,497.8 1178.3,496.9 1176.0,494.2 C1173.7,491.5 1166.7,487.8 1167.2,483.8 C1167.7,479.8 1176.0,474.6 1179.0,470.3 C1182.0,466.0 1183.5,461.8 1185.0,458.0 C1186.5,454.2 1187.6,451.0 1188.0,447.5 C1188.4,444.0 1187.7,440.5 1187.5,437.0 C1187.3,433.5 1187.1,428.4 1187.0,426.7 Z" fill="none" stroke="#D22A1C" stroke-width="1.8"/>
<line x1="1173.3" y1="491.0" x2="1206.7" y2="491.0" stroke="#D22A1C" stroke-width="1.6" stroke-dasharray="5,4"/>
<circle cx="1190.0" cy="423.6" r="7.7" fill="#F3421F" fill-opacity="0.72" stroke="#D22A1C" stroke-width="1.8"/>
<circle cx="1190.0" cy="437.1" r="7.7" fill="#F3421F" fill-opacity="0.72" stroke="#D22A1C" stroke-width="1.8"/>
<circle cx="1190.0" cy="458.9" r="7.7" fill="#F3421F" fill-opacity="0.72" stroke="#D22A1C" stroke-width="1.8"/>
<circle cx="1190.0" cy="470.0" r="7.7" fill="#F3421F" fill-opacity="0.72" stroke="#D22A1C" stroke-width="1.8"/>
<circle cx="1190.0" cy="474.0" r="7.7" fill="#F3421F" fill-opacity="0.72" stroke="#D22A1C" stroke-width="1.8"/>
<circle cx="1190.0" cy="478.0" r="7.7" fill="#F3421F" fill-opacity="0.72" stroke="#D22A1C" stroke-width="1.8"/>
<circle cx="1190.0" cy="482.0" r="7.7" fill="#F3421F" fill-opacity="0.72" stroke="#D22A1C" stroke-width="1.8"/>
<circle cx="1190.0" cy="486.0" r="7.7" fill="#F3421F" fill-opacity="0.72" stroke="#D22A1C" stroke-width="1.8"/>
<circle cx="1190.0" cy="490.0" r="7.7" fill="#F3421F" fill-opacity="0.72" stroke="#D22A1C" stroke-width="1.8"/>
<circle cx="1190.0" cy="494.0" r="7.7" fill="#F3421F" fill-opacity="0.72" stroke="#D22A1C" stroke-width="1.8"/>
<circle cx="1190.0" cy="498.0" r="7.7" fill="#F3421F" fill-opacity="0.72" stroke="#D22A1C" stroke-width="1.8"/>
<circle cx="1190.0" cy="502.0" r="7.7" fill="#F3421F" fill-opacity="0.72" stroke="#D22A1C" stroke-width="1.8"/>
<circle cx="1190.0" cy="506.0" r="7.7" fill="#F3421F" fill-opacity="0.72" stroke="#D22A1C" stroke-width="1.8"/>
<circle cx="1190.0" cy="509.8" r="7.7" fill="#F3421F" fill-opacity="0.72" stroke="#D22A1C" stroke-width="1.8"/>
<line x1="1167.2" y1="483.8" x2="1212.8" y2="483.8" stroke="#D22A1C" stroke-width="3.6" />
<path d="M1259.9,186.6 C1259.7,188.8 1259.3,195.0 1258.8,200.0 C1258.2,205.0 1257.1,210.7 1256.6,216.5 C1256.1,222.3 1255.7,230.5 1255.6,235.0 C1255.5,239.5 1255.3,239.1 1255.9,243.3 C1256.5,247.5 1258.1,255.1 1259.3,260.0 C1260.5,264.9 1261.5,266.2 1263.0,273.0 C1264.5,279.8 1266.8,292.8 1268.1,301.0 C1269.4,309.2 1270.3,315.5 1270.8,322.0 C1271.3,328.5 1271.4,333.7 1271.3,340.0 C1271.2,346.3 1270.8,352.5 1270.3,360.0 C1269.8,367.5 1269.2,377.5 1268.6,385.0 C1268.0,392.5 1267.4,396.8 1266.6,405.0 C1265.8,413.2 1264.3,429.2 1263.9,434.0 L1234.7,434.0 C1234.2,429.2 1232.8,413.2 1232.0,405.0 C1231.2,396.8 1230.6,392.5 1230.0,385.0 C1229.4,377.5 1228.8,367.5 1228.3,360.0 C1227.8,352.5 1227.4,346.3 1227.3,340.0 C1227.2,333.7 1227.3,328.5 1227.8,322.0 C1228.3,315.5 1229.2,309.2 1230.5,301.0 C1231.8,292.8 1234.1,279.8 1235.6,273.0 C1237.1,266.2 1238.1,264.9 1239.3,260.0 C1240.5,255.1 1242.1,247.5 1242.7,243.3 C1243.3,239.1 1243.1,239.5 1243.0,235.0 C1242.9,230.5 1242.5,222.3 1242.0,216.5 C1241.5,210.7 1240.3,205.0 1239.8,200.0 C1239.2,195.0 1238.9,188.8 1238.7,186.6 Z" fill="none" stroke="#D22A1C" stroke-width="1.8"/>
<line x1="1242.7" y1="243.3" x2="1255.9" y2="243.3" stroke="#D22A1C" stroke-width="1.6" stroke-dasharray="5,4"/>
<line x1="1232.5" y1="409.9" x2="1266.1" y2="409.9" stroke="#D22A1C" stroke-width="1.6" stroke-dasharray="5,4"/>
<circle cx="1249.3" cy="185.3" r="7.7" fill="#F3421F" fill-opacity="0.72" stroke="#D22A1C" stroke-width="1.8"/>
<circle cx="1249.3" cy="300.5" r="7.7" fill="#F3421F" fill-opacity="0.72" stroke="#D22A1C" stroke-width="1.8"/>
<circle cx="1249.3" cy="330.1" r="7.7" fill="#F3421F" fill-opacity="0.72" stroke="#D22A1C" stroke-width="1.8"/>
<circle cx="1249.3" cy="385.4" r="7.7" fill="#F3421F" fill-opacity="0.72" stroke="#D22A1C" stroke-width="1.8"/>
<circle cx="1249.3" cy="434.0" r="7.7" fill="#F3421F" fill-opacity="0.72" stroke="#D22A1C" stroke-width="1.8"/>
<line x1="1227.6" y1="330.1" x2="1271.0" y2="330.1" stroke="#D22A1C" stroke-width="3.6" />
<path d="M1383.0,349.8 C1382.7,351.5 1381.7,356.6 1381.0,360.0 C1380.3,363.4 1379.4,364.9 1378.7,370.0 C1378.0,375.1 1377.0,385.3 1377.0,390.3 C1377.0,395.3 1378.1,396.4 1379.0,400.0 C1379.9,403.6 1382.3,408.5 1382.5,412.2 C1382.7,415.9 1380.8,418.6 1380.0,422.0 C1379.2,425.4 1377.8,429.4 1378.0,432.4 C1378.2,435.4 1379.7,436.3 1381.0,440.0 C1382.3,443.7 1384.2,450.2 1386.0,454.4 C1387.8,458.6 1390.7,462.5 1392.0,465.0 C1393.3,467.5 1393.7,468.2 1393.9,469.5 C1394.2,470.8 1393.6,472.3 1393.5,472.9 L1350.5,472.9 C1350.4,472.3 1349.8,470.8 1350.1,469.5 C1350.3,468.2 1350.7,467.5 1352.0,465.0 C1353.3,462.5 1356.2,458.6 1358.0,454.4 C1359.8,450.2 1361.7,443.7 1363.0,440.0 C1364.3,436.3 1365.8,435.4 1366.0,432.4 C1366.2,429.4 1364.8,425.4 1364.0,422.0 C1363.2,418.6 1361.3,415.9 1361.5,412.2 C1361.7,408.5 1364.1,403.6 1365.0,400.0 C1365.9,396.4 1367.0,395.3 1367.0,390.3 C1367.0,385.3 1366.0,375.1 1365.3,370.0 C1364.6,364.9 1363.7,363.4 1363.0,360.0 C1362.3,356.6 1361.3,351.5 1361.0,349.8 Z" fill="none" stroke="#D22A1C" stroke-width="1.8"/>
<line x1="1365.3" y1="370.0" x2="1378.7" y2="370.0" stroke="#D22A1C" stroke-width="1.6" stroke-dasharray="5,4"/>
<line x1="1350.1" y1="469.5" x2="1393.9" y2="469.5" stroke="#D22A1C" stroke-width="1.6" stroke-dasharray="5,4"/>
<circle cx="1372.0" cy="348.1" r="7.7" fill="#fff" stroke="#D22A1C" stroke-width="1.8"/>
<circle cx="1372.0" cy="355.7" r="7.7" fill="#fff" stroke="#D22A1C" stroke-width="1.8"/>
<circle cx="1372.0" cy="411.3" r="7.7" fill="#fff" stroke="#D22A1C" stroke-width="1.8"/>
<circle cx="1372.0" cy="415.6" r="7.7" fill="#fff" stroke="#D22A1C" stroke-width="1.8"/>
<circle cx="1372.0" cy="462.8" r="7.7" fill="#fff" stroke="#D22A1C" stroke-width="1.8"/>
<circle cx="1372.0" cy="472.9" r="7.7" fill="#fff" stroke="#D22A1C" stroke-width="1.8"/>
<line x1="1363.0" y1="440.0" x2="1381.0" y2="440.0" stroke="#D22A1C" stroke-width="3.6" />
<path d="M1444.2,258.3 C1444.4,261.4 1444.5,270.7 1445.6,277.2 C1446.6,283.7 1450.0,290.8 1450.5,297.5 C1451.0,304.2 1450.1,310.7 1448.8,317.7 C1447.5,324.7 1443.0,332.3 1442.9,339.6 C1442.8,346.9 1446.9,355.7 1448.4,361.6 C1449.9,367.5 1451.4,372.0 1452.1,375.0 C1452.8,378.0 1452.6,379.0 1452.7,379.8 L1409.5,379.8 C1409.6,379.0 1409.4,378.0 1410.1,375.0 C1410.8,372.0 1412.3,367.5 1413.8,361.6 C1415.3,355.7 1419.4,346.9 1419.3,339.6 C1419.2,332.3 1414.7,324.7 1413.4,317.7 C1412.1,310.7 1411.2,304.2 1411.7,297.5 C1412.2,290.8 1415.5,283.7 1416.6,277.2 C1417.6,270.7 1417.8,261.4 1418.0,258.3 Z" fill="none" stroke="#D22A1C" stroke-width="1.8"/>
<line x1="1416.6" y1="277.2" x2="1445.6" y2="277.2" stroke="#D22A1C" stroke-width="1.6" stroke-dasharray="5,4"/>
<line x1="1409.6" y1="379.0" x2="1452.6" y2="379.0" stroke="#D22A1C" stroke-width="1.6" stroke-dasharray="5,4"/>
<circle cx="1431.1" cy="258.3" r="7.7" fill="#fff" stroke="#D22A1C" stroke-width="1.8"/>
<circle cx="1431.1" cy="295.0" r="7.7" fill="#fff" stroke="#D22A1C" stroke-width="1.8"/>
<circle cx="1431.1" cy="318.6" r="7.7" fill="#fff" stroke="#D22A1C" stroke-width="1.8"/>
<circle cx="1431.1" cy="377.1" r="7.7" fill="#fff" stroke="#D22A1C" stroke-width="1.8"/>
<circle cx="1431.1" cy="380.1" r="7.7" fill="#fff" stroke="#D22A1C" stroke-width="1.8"/>
<line x1="1413.4" y1="317.7" x2="1448.8" y2="317.7" stroke="#D22A1C" stroke-width="3.6" />
<path d="M1494.4,241.8 C1494.4,245.5 1494.4,256.4 1494.3,263.7 C1494.2,271.0 1493.7,278.8 1493.8,285.7 C1493.9,292.6 1493.8,299.3 1494.8,305.0 C1495.8,310.7 1498.0,315.6 1499.8,320.0 C1501.6,324.4 1504.3,326.8 1505.8,331.2 C1507.3,335.6 1507.8,340.8 1508.8,346.4 C1509.8,352.0 1511.2,360.1 1511.7,365.0 C1512.2,369.9 1512.6,370.3 1511.7,375.9 C1510.8,381.5 1507.9,391.4 1506.2,398.7 C1504.5,406.0 1502.5,412.8 1501.6,419.8 C1500.7,426.8 1501.4,435.5 1500.8,440.9 C1500.2,446.3 1498.9,449.2 1497.8,452.0 C1496.7,454.8 1494.9,456.8 1494.3,457.7 L1485.3,457.7 C1484.7,456.8 1482.9,454.8 1481.8,452.0 C1480.7,449.2 1479.4,446.3 1478.8,440.9 C1478.2,435.5 1478.9,426.8 1478.0,419.8 C1477.1,412.8 1475.1,406.0 1473.4,398.7 C1471.7,391.4 1468.8,381.5 1467.9,375.9 C1467.0,370.3 1467.4,369.9 1467.9,365.0 C1468.4,360.1 1469.8,352.0 1470.8,346.4 C1471.8,340.8 1472.3,335.6 1473.8,331.2 C1475.3,326.8 1478.0,324.4 1479.8,320.0 C1481.6,315.6 1483.8,310.7 1484.8,305.0 C1485.8,299.3 1485.7,292.6 1485.8,285.7 C1485.9,278.8 1485.4,271.0 1485.3,263.7 C1485.2,256.4 1485.2,245.5 1485.2,241.8 Z" fill="none" stroke="#D22A1C" stroke-width="1.8"/>
<line x1="1470.8" y1="346.4" x2="1508.8" y2="346.4" stroke="#D22A1C" stroke-width="1.6" stroke-dasharray="5,4"/>
<line x1="1478.0" y1="419.8" x2="1501.6" y2="419.8" stroke="#D22A1C" stroke-width="1.6" stroke-dasharray="5,4"/>
<circle cx="1489.8" cy="241.0" r="7.7" fill="#F3421F" fill-opacity="0.72" stroke="#D22A1C" stroke-width="1.8"/>
<circle cx="1489.8" cy="296.3" r="7.7" fill="#F3421F" fill-opacity="0.72" stroke="#D22A1C" stroke-width="1.8"/>
<circle cx="1489.8" cy="344.7" r="7.7" fill="#F3421F" fill-opacity="0.72" stroke="#D22A1C" stroke-width="1.8"/>
<circle cx="1489.8" cy="348.9" r="7.7" fill="#F3421F" fill-opacity="0.72" stroke="#D22A1C" stroke-width="1.8"/>
<circle cx="1489.8" cy="370.9" r="7.7" fill="#F3421F" fill-opacity="0.72" stroke="#D22A1C" stroke-width="1.8"/>
<circle cx="1489.8" cy="376.8" r="7.7" fill="#F3421F" fill-opacity="0.72" stroke="#D22A1C" stroke-width="1.8"/>
<circle cx="1489.8" cy="382.7" r="7.7" fill="#F3421F" fill-opacity="0.72" stroke="#D22A1C" stroke-width="1.8"/>
<circle cx="1489.8" cy="400.4" r="7.7" fill="#F3421F" fill-opacity="0.72" stroke="#D22A1C" stroke-width="1.8"/>
<circle cx="1489.8" cy="426.5" r="7.7" fill="#F3421F" fill-opacity="0.72" stroke="#D22A1C" stroke-width="1.8"/>
<circle cx="1489.8" cy="430.7" r="7.7" fill="#F3421F" fill-opacity="0.72" stroke="#D22A1C" stroke-width="1.8"/>
<circle cx="1489.8" cy="457.7" r="7.7" fill="#F3421F" fill-opacity="0.72" stroke="#D22A1C" stroke-width="1.8"/>
<line x1="1467.9" y1="375.9" x2="1511.7" y2="375.9" stroke="#D22A1C" stroke-width="3.6" />
<path d="M1566.9,266.3 C1567.0,268.3 1567.3,273.3 1567.8,278.1 C1568.3,282.9 1569.2,289.5 1569.8,295.0 C1570.3,300.5 1571.3,305.2 1571.1,311.0 C1570.9,316.8 1569.9,324.2 1568.8,330.0 C1567.7,335.8 1565.2,340.6 1564.4,345.6 C1563.6,350.6 1564.1,357.5 1564.0,359.9 L1533.6,359.9 C1533.5,357.5 1534.0,350.6 1533.2,345.6 C1532.4,340.6 1529.9,335.8 1528.8,330.0 C1527.7,324.2 1526.7,316.8 1526.5,311.0 C1526.3,305.2 1527.2,300.5 1527.8,295.0 C1528.3,289.5 1529.3,282.9 1529.8,278.1 C1530.3,273.3 1530.5,268.3 1530.7,266.3 Z" fill="none" stroke="#D22A1C" stroke-width="1.8"/>
<line x1="1529.8" y1="278.1" x2="1567.8" y2="278.1" stroke="#D22A1C" stroke-width="1.6" stroke-dasharray="5,4"/>
<line x1="1533.2" y1="345.6" x2="1564.4" y2="345.6" stroke="#D22A1C" stroke-width="1.6" stroke-dasharray="5,4"/>
<circle cx="1548.8" cy="266.3" r="7.7" fill="#F3421F" fill-opacity="0.72" stroke="#D22A1C" stroke-width="1.8"/>
<circle cx="1548.8" cy="289.0" r="7.7" fill="#F3421F" fill-opacity="0.72" stroke="#D22A1C" stroke-width="1.8"/>
<circle cx="1548.8" cy="310.6" r="7.7" fill="#F3421F" fill-opacity="0.72" stroke="#D22A1C" stroke-width="1.8"/>
<circle cx="1548.8" cy="331.2" r="7.7" fill="#F3421F" fill-opacity="0.72" stroke="#D22A1C" stroke-width="1.8"/>
<circle cx="1548.8" cy="359.6" r="7.7" fill="#F3421F" fill-opacity="0.72" stroke="#D22A1C" stroke-width="1.8"/>
<line x1="1526.5" y1="311.0" x2="1571.1" y2="311.0" stroke="#D22A1C" stroke-width="3.6" />
<text transform="translate(1630.6,32.3) scale(1,1.04)" font-size="43" text-anchor="start" fill="#111" stroke="#111" >c</text>
<text transform="translate(1951.4,103.8) scale(1,1.04)" font-size="38" text-anchor="middle" fill="#111" stroke="#111" >Ctx</text>
<line x1="1817.7" y1="171.2" x2="1817.7" y2="573.2" stroke="#111" stroke-width="2.2" />
<line x1="1816.7" y1="572.2" x2="2085.2" y2="572.2" stroke="#111" stroke-width="2.2" />
<line x1="1817.7" y1="572.2" x2="1817.7" y2="587.7" stroke="#111" stroke-width="2.2" />
<text transform="translate(1826.7,616.0) rotate(-45) scale(1,1.04)" font-size="38" text-anchor="end" fill="#111" stroke="#111">0.0</text>
<line x1="1871.0" y1="572.2" x2="1871.0" y2="587.7" stroke="#111" stroke-width="2.2" />
<text transform="translate(1880.0,616.0) rotate(-45) scale(1,1.04)" font-size="38" text-anchor="end" fill="#111" stroke="#111">0.2</text>
<line x1="1924.3" y1="572.2" x2="1924.3" y2="587.7" stroke="#111" stroke-width="2.2" />
<text transform="translate(1933.3,616.0) rotate(-45) scale(1,1.04)" font-size="38" text-anchor="end" fill="#111" stroke="#111">0.4</text>
<line x1="1977.6" y1="572.2" x2="1977.6" y2="587.7" stroke="#111" stroke-width="2.2" />
<text transform="translate(1986.6,616.0) rotate(-45) scale(1,1.04)" font-size="38" text-anchor="end" fill="#111" stroke="#111">0.6</text>
<line x1="2030.9" y1="572.2" x2="2030.9" y2="587.7" stroke="#111" stroke-width="2.2" />
<text transform="translate(2039.9,616.0) rotate(-45) scale(1,1.04)" font-size="38" text-anchor="end" fill="#111" stroke="#111">0.8</text>
<line x1="2084.2" y1="572.2" x2="2084.2" y2="587.7" stroke="#111" stroke-width="2.2" />
<text transform="translate(2093.2,616.0) rotate(-45) scale(1,1.04)" font-size="38" text-anchor="end" fill="#111" stroke="#111">1.0</text>
<line x1="1801.7" y1="572.2" x2="1817.7" y2="572.2" stroke="#111" stroke-width="2.2" />
<text transform="translate(1796.0,585.8) scale(1,1.04)" font-size="39" text-anchor="end" fill="#111" stroke="#111" >0.0</text>
<line x1="1801.7" y1="438.9" x2="1817.7" y2="438.9" stroke="#111" stroke-width="2.2" />
<text transform="translate(1796.0,452.5) scale(1,1.04)" font-size="39" text-anchor="end" fill="#111" stroke="#111" >0.5</text>
<line x1="1801.7" y1="305.5" x2="1817.7" y2="305.5" stroke="#111" stroke-width="2.2" />
<text transform="translate(1796.0,319.1) scale(1,1.04)" font-size="39" text-anchor="end" fill="#111" stroke="#111" >1.0</text>
<line x1="1801.7" y1="172.2" x2="1817.7" y2="172.2" stroke="#111" stroke-width="2.2" />
<text transform="translate(1796.0,185.8) scale(1,1.04)" font-size="39" text-anchor="end" fill="#111" stroke="#111" >1.5</text>
<text transform="translate(1709.5,372.5) rotate(-90) scale(1,1.04)" font-size="38.4" text-anchor="middle" fill="#111" stroke="#111" textLength="382" lengthAdjust="spacing">BBB <tspan font-style="italic" dx="2">K</tspan><tspan font-style="italic" font-size="22" dy="13.5">trans</tspan><tspan dy="-13.5"> (x10</tspan><tspan font-size="22.5" dy="-12.5">-3</tspan><tspan dy="12.5"> min</tspan><tspan font-size="22.5" dy="-12.5">-1</tspan><tspan dy="12.5">)</tspan></text>
<text transform="translate(1948.0,708.9) scale(1,1.04)" font-size="38" text-anchor="middle" fill="#111" stroke="#111" >Guanidine Soluble</text>
<text transform="translate(1948.0,754.4) scale(1,1.04)" font-size="38" text-anchor="middle" fill="#111" stroke="#111" textLength="342" lengthAdjust="spacingAndGlyphs">Aβ40 µg/mg protein</text>
<text transform="translate(1843.0,512.4) scale(1,1.04)" font-size="30" text-anchor="start" fill="#D0101A" stroke="#D0101A" >r=0.07</text>
<text transform="translate(1843.0,547.7) scale(1,1.04)" font-size="30" text-anchor="start" fill="#D0101A" stroke="#D0101A" >ns (n=28)</text>
<line x1="1817.7" y1="358.4" x2="2039.7" y2="343.8" stroke="#D22A1C" stroke-width="2.0" />
<circle cx="1825.7" cy="331.2" r="7.9" fill="none" stroke="#DC4638" stroke-width="1.6"/>
<circle cx="1821.8" cy="333.6" r="7.9" fill="none" stroke="#DC4638" stroke-width="1.6"/>
<circle cx="1835.8" cy="344.5" r="7.9" fill="none" stroke="#DC4638" stroke-width="1.6"/>
<circle cx="1822.6" cy="356.0" r="7.9" fill="none" stroke="#DC4638" stroke-width="1.6"/>
<circle cx="1844.0" cy="363.2" r="7.9" fill="none" stroke="#DC4638" stroke-width="1.6"/>
<circle cx="1824.1" cy="371.7" r="7.9" fill="none" stroke="#DC4638" stroke-width="1.6"/>
<circle cx="1821.0" cy="393.6" r="7.9" fill="none" stroke="#DC4638" stroke-width="1.6"/>
<circle cx="1856.9" cy="389.2" r="7.9" fill="none" stroke="#DC4638" stroke-width="1.6"/>
<circle cx="1823.0" cy="418.5" r="7.9" fill="none" stroke="#DC4638" stroke-width="1.6"/>
<circle cx="1831.2" cy="434.5" r="7.9" fill="none" stroke="#DC4638" stroke-width="1.6"/>
<circle cx="1855.6" cy="434.5" r="7.9" fill="none" stroke="#DC4638" stroke-width="1.6"/>
<circle cx="1832.7" cy="455.1" r="7.9" fill="none" stroke="#DC4638" stroke-width="1.6"/>
<circle cx="1826.0" cy="346.0" r="7.9" fill="none" stroke="#DC4638" stroke-width="1.6"/>
<circle cx="1838.0" cy="358.0" r="7.9" fill="none" stroke="#DC4638" stroke-width="1.6"/>
<circle cx="1843.3" cy="251.0" r="7.8" fill="#F5441F" fill-opacity="0.8" stroke="#E04A30" stroke-opacity="0.5" stroke-width="0.8"/>
<circle cx="1829.3" cy="263.5" r="7.8" fill="#F5441F" fill-opacity="0.8" stroke="#E04A30" stroke-opacity="0.5" stroke-width="0.8"/>
<circle cx="1838.5" cy="298.5" r="7.8" fill="#F5441F" fill-opacity="0.8" stroke="#E04A30" stroke-opacity="0.5" stroke-width="0.8"/>
<circle cx="1871.7" cy="298.2" r="7.8" fill="#F5441F" fill-opacity="0.8" stroke="#E04A30" stroke-opacity="0.5" stroke-width="0.8"/>
<circle cx="1870.7" cy="298.2" r="7.8" fill="#F5441F" fill-opacity="0.8" stroke="#E04A30" stroke-opacity="0.5" stroke-width="0.8"/>
<circle cx="1847.5" cy="329.7" r="7.8" fill="#F5441F" fill-opacity="0.8" stroke="#E04A30" stroke-opacity="0.5" stroke-width="0.8"/>
<circle cx="1839.7" cy="341.8" r="7.8" fill="#F5441F" fill-opacity="0.8" stroke="#E04A30" stroke-opacity="0.5" stroke-width="0.8"/>
<circle cx="1856.0" cy="347.9" r="7.8" fill="#F5441F" fill-opacity="0.8" stroke="#E04A30" stroke-opacity="0.5" stroke-width="0.8"/>
<circle cx="1822.6" cy="354.6" r="7.8" fill="#F5441F" fill-opacity="0.8" stroke="#E04A30" stroke-opacity="0.5" stroke-width="0.8"/>
<circle cx="1879.4" cy="363.2" r="7.8" fill="#F5441F" fill-opacity="0.8" stroke="#E04A30" stroke-opacity="0.5" stroke-width="0.8"/>
<circle cx="1838.2" cy="374.0" r="7.8" fill="#F5441F" fill-opacity="0.8" stroke="#E04A30" stroke-opacity="0.5" stroke-width="0.8"/>
<circle cx="1838.6" cy="391.2" r="7.8" fill="#F5441F" fill-opacity="0.8" stroke="#E04A30" stroke-opacity="0.5" stroke-width="0.8"/>
<circle cx="1905.3" cy="391.9" r="7.8" fill="#F5441F" fill-opacity="0.8" stroke="#E04A30" stroke-opacity="0.5" stroke-width="0.8"/>
<circle cx="1961.7" cy="410.1" r="7.8" fill="#F5441F" fill-opacity="0.8" stroke="#E04A30" stroke-opacity="0.5" stroke-width="0.8"/>
<circle cx="2037.9" cy="312.7" r="7.8" fill="#F5441F" fill-opacity="0.8" stroke="#E04A30" stroke-opacity="0.5" stroke-width="0.8"/>
<text transform="translate(-0.3,852.0) scale(1,1.04)" font-size="43" text-anchor="start" fill="#111" stroke="#111" >d</text>
<text transform="translate(342.0,885.0) scale(1,1.04)" font-size="38" text-anchor="middle" fill="#111" stroke="#111" >Hipp</text>
<line x1="209.2" y1="942.4" x2="209.2" y2="1347.0" stroke="#111" stroke-width="2.2" />
<line x1="208.2" y1="1346.0" x2="477.8" y2="1346.0" stroke="#111" stroke-width="2.2" />
<line x1="209.2" y1="1346.0" x2="209.2" y2="1361.5" stroke="#111" stroke-width="2.2" />
<text transform="translate(218.2,1389.8) rotate(-45) scale(1,1.04)" font-size="38" text-anchor="end" fill="#111" stroke="#111">0.0</text>
<line x1="262.7" y1="1346.0" x2="262.7" y2="1361.5" stroke="#111" stroke-width="2.2" />
<text transform="translate(271.7,1389.8) rotate(-45) scale(1,1.04)" font-size="38" text-anchor="end" fill="#111" stroke="#111">0.2</text>
<line x1="316.2" y1="1346.0" x2="316.2" y2="1361.5" stroke="#111" stroke-width="2.2" />
<text transform="translate(325.2,1389.8) rotate(-45) scale(1,1.04)" font-size="38" text-anchor="end" fill="#111" stroke="#111">0.4</text>
<line x1="369.8" y1="1346.0" x2="369.8" y2="1361.5" stroke="#111" stroke-width="2.2" />
<text transform="translate(378.8,1389.8) rotate(-45) scale(1,1.04)" font-size="38" text-anchor="end" fill="#111" stroke="#111">0.6</text>
<line x1="423.3" y1="1346.0" x2="423.3" y2="1361.5" stroke="#111" stroke-width="2.2" />
<text transform="translate(432.3,1389.8) rotate(-45) scale(1,1.04)" font-size="38" text-anchor="end" fill="#111" stroke="#111">0.8</text>
<line x1="476.8" y1="1346.0" x2="476.8" y2="1361.5" stroke="#111" stroke-width="2.2" />
<text transform="translate(485.8,1389.8) rotate(-45) scale(1,1.04)" font-size="38" text-anchor="end" fill="#111" stroke="#111">1.0</text>
<line x1="193.2" y1="1346.0" x2="209.2" y2="1346.0" stroke="#111" stroke-width="2.2" />
<text transform="translate(187.5,1359.6) scale(1,1.04)" font-size="39" text-anchor="end" fill="#111" stroke="#111" >0.0</text>
<line x1="193.2" y1="1211.8" x2="209.2" y2="1211.8" stroke="#111" stroke-width="2.2" />
<text transform="translate(187.5,1225.4) scale(1,1.04)" font-size="39" text-anchor="end" fill="#111" stroke="#111" >0.5</text>
<line x1="193.2" y1="1077.6" x2="209.2" y2="1077.6" stroke="#111" stroke-width="2.2" />
<text transform="translate(187.5,1091.2) scale(1,1.04)" font-size="39" text-anchor="end" fill="#111" stroke="#111" >1.0</text>
<line x1="193.2" y1="943.4" x2="209.2" y2="943.4" stroke="#111" stroke-width="2.2" />
<text transform="translate(187.5,957.0) scale(1,1.04)" font-size="39" text-anchor="end" fill="#111" stroke="#111" >1.5</text>
<text transform="translate(103.0,1151.0) rotate(-90) scale(1,1.04)" font-size="38.4" text-anchor="middle" fill="#111" stroke="#111" textLength="382" lengthAdjust="spacing">BBB <tspan font-style="italic" dx="2">K</tspan><tspan font-style="italic" font-size="22" dy="13.5">trans</tspan><tspan dy="-13.5"> (x10</tspan><tspan font-size="22.5" dy="-12.5">-3</tspan><tspan dy="12.5"> min</tspan><tspan font-size="22.5" dy="-12.5">-1</tspan><tspan dy="12.5">)</tspan></text>
<text transform="translate(341.0,1483.0) scale(1,1.04)" font-size="38" text-anchor="middle" fill="#111" stroke="#111" >Guanidine Soluble</text>
<text transform="translate(341.0,1528.7) scale(1,1.04)" font-size="38" text-anchor="middle" fill="#111" stroke="#111" textLength="342" lengthAdjust="spacingAndGlyphs">Aβ40 µg/mg protein</text>
<text transform="translate(235.0,1290.6) scale(1,1.04)" font-size="30" text-anchor="start" fill="#D0101A" stroke="#D0101A" >r=0.05</text>
<text transform="translate(235.0,1326.7) scale(1,1.04)" font-size="30" text-anchor="start" fill="#D0101A" stroke="#D0101A" >ns (n=28)</text>
<line x1="242.9" y1="1123.2" x2="395.4" y2="1112.6" stroke="#D22A1C" stroke-width="2.0" />
<circle cx="247.7" cy="1088.6" r="7.9" fill="none" stroke="#DC4638" stroke-width="1.6"/>
<circle cx="242.0" cy="1135.7" r="7.9" fill="none" stroke="#DC4638" stroke-width="1.6"/>
<circle cx="243.0" cy="1163.2" r="7.9" fill="none" stroke="#DC4638" stroke-width="1.6"/>
<circle cx="247.7" cy="1178.5" r="7.9" fill="none" stroke="#DC4638" stroke-width="1.6"/>
<circle cx="280.4" cy="1156.0" r="7.9" fill="none" stroke="#DC4638" stroke-width="1.6"/>
<circle cx="305.4" cy="1140.5" r="7.9" fill="none" stroke="#DC4638" stroke-width="1.6"/>
<circle cx="344.9" cy="1126.1" r="7.9" fill="none" stroke="#DC4638" stroke-width="1.6"/>
<circle cx="319.9" cy="1170.4" r="7.9" fill="none" stroke="#DC4638" stroke-width="1.6"/>
<circle cx="282.8" cy="1206.4" r="7.9" fill="none" stroke="#DC4638" stroke-width="1.6"/>
<circle cx="303.0" cy="1208.8" r="7.9" fill="none" stroke="#DC4638" stroke-width="1.6"/>
<circle cx="359.8" cy="1207.9" r="7.9" fill="none" stroke="#DC4638" stroke-width="1.6"/>
<circle cx="383.8" cy="1201.6" r="7.9" fill="none" stroke="#DC4638" stroke-width="1.6"/>
<circle cx="302.0" cy="966.9" r="7.8" fill="#F5441F" fill-opacity="0.8" stroke="#E04A30" stroke-opacity="0.5" stroke-width="0.8"/>
<circle cx="317.5" cy="969.8" r="7.8" fill="#F5441F" fill-opacity="0.8" stroke="#E04A30" stroke-opacity="0.5" stroke-width="0.8"/>
<circle cx="350.2" cy="978.9" r="7.8" fill="#F5441F" fill-opacity="0.8" stroke="#E04A30" stroke-opacity="0.5" stroke-width="0.8"/>
<circle cx="310.2" cy="1016.5" r="7.8" fill="#F5441F" fill-opacity="0.8" stroke="#E04A30" stroke-opacity="0.5" stroke-width="0.8"/>
<circle cx="327.0" cy="1059.7" r="7.8" fill="#F5441F" fill-opacity="0.8" stroke="#E04A30" stroke-opacity="0.5" stroke-width="0.8"/>
<circle cx="273.2" cy="1094.4" r="7.8" fill="#F5441F" fill-opacity="0.8" stroke="#E04A30" stroke-opacity="0.5" stroke-width="0.8"/>
<circle cx="303.0" cy="1091.0" r="7.8" fill="#F5441F" fill-opacity="0.8" stroke="#E04A30" stroke-opacity="0.5" stroke-width="0.8"/>
<circle cx="322.3" cy="1083.8" r="7.8" fill="#F5441F" fill-opacity="0.8" stroke="#E04A30" stroke-opacity="0.5" stroke-width="0.8"/>
<circle cx="291.0" cy="1110.2" r="7.8" fill="#F5441F" fill-opacity="0.8" stroke="#E04A30" stroke-opacity="0.5" stroke-width="0.8"/>
<circle cx="336.7" cy="1107.8" r="7.8" fill="#F5441F" fill-opacity="0.8" stroke="#E04A30" stroke-opacity="0.5" stroke-width="0.8"/>
<circle cx="395.4" cy="1110.7" r="7.8" fill="#F5441F" fill-opacity="0.8" stroke="#E04A30" stroke-opacity="0.5" stroke-width="0.8"/>
<circle cx="252.5" cy="1135.7" r="7.8" fill="#F5441F" fill-opacity="0.8" stroke="#E04A30" stroke-opacity="0.5" stroke-width="0.8"/>
<circle cx="269.4" cy="1152.6" r="7.8" fill="#F5441F" fill-opacity="0.8" stroke="#E04A30" stroke-opacity="0.5" stroke-width="0.8"/>
<circle cx="323.2" cy="1147.8" r="7.8" fill="#F5441F" fill-opacity="0.8" stroke="#E04A30" stroke-opacity="0.5" stroke-width="0.8"/>
<circle cx="379.0" cy="1141.5" r="7.8" fill="#F5441F" fill-opacity="0.8" stroke="#E04A30" stroke-opacity="0.5" stroke-width="0.8"/>
<circle cx="359.8" cy="1158.3" r="7.8" fill="#F5441F" fill-opacity="0.8" stroke="#E04A30" stroke-opacity="0.5" stroke-width="0.8"/>
<text transform="translate(518.5,852.0) scale(1,1.04)" font-size="43" text-anchor="start" fill="#111" stroke="#111" >e</text>
<text transform="translate(819.2,882.7) scale(1,1.04)" font-size="38" text-anchor="middle" fill="#111" stroke="#111" >Ctx</text>
<line x1="685.5" y1="943.5" x2="685.5" y2="1348.0" stroke="#111" stroke-width="2.2" />
<line x1="684.5" y1="1347.0" x2="954.1" y2="1347.0" stroke="#111" stroke-width="2.2" />
<line x1="685.5" y1="1347.0" x2="685.5" y2="1362.5" stroke="#111" stroke-width="2.2" />
<text transform="translate(694.5,1390.8) rotate(-45) scale(1,1.04)" font-size="38" text-anchor="end" fill="#111" stroke="#111">0.0</text>
<line x1="739.0" y1="1347.0" x2="739.0" y2="1362.5" stroke="#111" stroke-width="2.2" />
<text transform="translate(748.0,1390.8) rotate(-45) scale(1,1.04)" font-size="38" text-anchor="end" fill="#111" stroke="#111">0.2</text>
<line x1="792.5" y1="1347.0" x2="792.5" y2="1362.5" stroke="#111" stroke-width="2.2" />
<text transform="translate(801.5,1390.8) rotate(-45) scale(1,1.04)" font-size="38" text-anchor="end" fill="#111" stroke="#111">0.4</text>
<line x1="846.1" y1="1347.0" x2="846.1" y2="1362.5" stroke="#111" stroke-width="2.2" />
<text transform="translate(855.1,1390.8) rotate(-45) scale(1,1.04)" font-size="38" text-anchor="end" fill="#111" stroke="#111">0.6</text>
<line x1="899.6" y1="1347.0" x2="899.6" y2="1362.5" stroke="#111" stroke-width="2.2" />
<text transform="translate(908.6,1390.8) rotate(-45) scale(1,1.04)" font-size="38" text-anchor="end" fill="#111" stroke="#111">0.8</text>
<line x1="953.1" y1="1347.0" x2="953.1" y2="1362.5" stroke="#111" stroke-width="2.2" />
<text transform="translate(962.1,1390.8) rotate(-45) scale(1,1.04)" font-size="38" text-anchor="end" fill="#111" stroke="#111">1.0</text>
<line x1="669.5" y1="1347.0" x2="685.5" y2="1347.0" stroke="#111" stroke-width="2.2" />
<text transform="translate(663.8,1360.6) scale(1,1.04)" font-size="39" text-anchor="end" fill="#111" stroke="#111" >0</text>
<line x1="669.5" y1="1266.5" x2="685.5" y2="1266.5" stroke="#111" stroke-width="2.2" />
<text transform="translate(663.8,1280.1) scale(1,1.04)" font-size="39" text-anchor="end" fill="#111" stroke="#111" >20</text>
<line x1="669.5" y1="1186.0" x2="685.5" y2="1186.0" stroke="#111" stroke-width="2.2" />
<text transform="translate(663.8,1199.6) scale(1,1.04)" font-size="39" text-anchor="end" fill="#111" stroke="#111" >40</text>
<line x1="669.5" y1="1105.5" x2="685.5" y2="1105.5" stroke="#111" stroke-width="2.2" />
<text transform="translate(663.8,1119.1) scale(1,1.04)" font-size="39" text-anchor="end" fill="#111" stroke="#111" >60</text>
<line x1="669.5" y1="1025.0" x2="685.5" y2="1025.0" stroke="#111" stroke-width="2.2" />
<text transform="translate(663.8,1038.6) scale(1,1.04)" font-size="39" text-anchor="end" fill="#111" stroke="#111" >80</text>
<line x1="669.5" y1="944.5" x2="685.5" y2="944.5" stroke="#111" stroke-width="2.2" />
<text transform="translate(663.8,958.1) scale(1,1.04)" font-size="39" text-anchor="end" fill="#111" stroke="#111" >100</text>
<text transform="translate(586.0,1121.0) rotate(-90) scale(1,1.04)" font-size="38" text-anchor="middle" fill="#111" stroke="#111">CBF (mL 100g<tspan font-size="22" dy="-12.5">-1</tspan><tspan dy="12.5"> min</tspan><tspan font-size="22" dy="-12.5">-1</tspan><tspan dy="12.5">)</tspan></text>
<text transform="translate(807.5,1483.0) scale(1,1.04)" font-size="38" text-anchor="middle" fill="#111" stroke="#111" >Guanidine Soluble</text>
<text transform="translate(807.5,1528.7) scale(1,1.04)" font-size="38" text-anchor="middle" fill="#111" stroke="#111" textLength="342" lengthAdjust="spacingAndGlyphs">Aβ40 µg/mg protein</text>
<text transform="translate(710.0,1290.6) scale(1,1.04)" font-size="30" text-anchor="start" fill="#D0101A" stroke="#D0101A" >r=-0.01</text>
<text transform="translate(710.0,1326.7) scale(1,1.04)" font-size="30" text-anchor="start" fill="#D0101A" stroke="#D0101A" >ns (n=28)</text>
<line x1="690.0" y1="1076.5" x2="908.8" y2="1080.0" stroke="#D22A1C" stroke-width="2.0" />
<circle cx="726.1" cy="956.3" r="7.9" fill="none" stroke="#DC4638" stroke-width="1.6"/>
<circle cx="727.0" cy="984.2" r="7.9" fill="none" stroke="#DC4638" stroke-width="1.6"/>
<circle cx="691.4" cy="1023.7" r="7.9" fill="none" stroke="#DC4638" stroke-width="1.6"/>
<circle cx="705.9" cy="1032.3" r="7.9" fill="none" stroke="#DC4638" stroke-width="1.6"/>
<circle cx="691.4" cy="1038.0" r="7.9" fill="none" stroke="#DC4638" stroke-width="1.6"/>
<circle cx="713.0" cy="1051.0" r="7.9" fill="none" stroke="#DC4638" stroke-width="1.6"/>
<circle cx="693.8" cy="1053.5" r="7.9" fill="none" stroke="#DC4638" stroke-width="1.6"/>
<circle cx="690.0" cy="1067.0" r="7.9" fill="none" stroke="#DC4638" stroke-width="1.6"/>
<circle cx="702.0" cy="1064.6" r="7.9" fill="none" stroke="#DC4638" stroke-width="1.6"/>
<circle cx="715.0" cy="1064.6" r="7.9" fill="none" stroke="#DC4638" stroke-width="1.6"/>
<circle cx="698.2" cy="1071.8" r="7.9" fill="none" stroke="#DC4638" stroke-width="1.6"/>
<circle cx="710.2" cy="1072.7" r="7.9" fill="none" stroke="#DC4638" stroke-width="1.6"/>
<circle cx="692.4" cy="1092.4" r="7.9" fill="none" stroke="#DC4638" stroke-width="1.6"/>
<circle cx="694.8" cy="1135.7" r="7.9" fill="none" stroke="#DC4638" stroke-width="1.6"/>
<circle cx="709.5" cy="1072.5" r="7.8" fill="#F5441F" fill-opacity="0.8" stroke="#E04A30" stroke-opacity="0.5" stroke-width="0.8"/>
<circle cx="748.7" cy="980.4" r="7.8" fill="#F5441F" fill-opacity="0.8" stroke="#E04A30" stroke-opacity="0.5" stroke-width="0.8"/>
<circle cx="742.9" cy="1024.6" r="7.8" fill="#F5441F" fill-opacity="0.8" stroke="#E04A30" stroke-opacity="0.5" stroke-width="0.8"/>
<circle cx="775.1" cy="1064.6" r="7.8" fill="#F5441F" fill-opacity="0.8" stroke="#E04A30" stroke-opacity="0.5" stroke-width="0.8"/>
<circle cx="830.9" cy="1055.9" r="7.8" fill="#F5441F" fill-opacity="0.8" stroke="#E04A30" stroke-opacity="0.5" stroke-width="0.8"/>
<circle cx="707.8" cy="1100.6" r="7.8" fill="#F5441F" fill-opacity="0.8" stroke="#E04A30" stroke-opacity="0.5" stroke-width="0.8"/>
<circle cx="698.2" cy="1116.0" r="7.8" fill="#F5441F" fill-opacity="0.8" stroke="#E04A30" stroke-opacity="0.5" stroke-width="0.8"/>
<circle cx="709.2" cy="1117.5" r="7.8" fill="#F5441F" fill-opacity="0.8" stroke="#E04A30" stroke-opacity="0.5" stroke-width="0.8"/>
<circle cx="713.0" cy="1123.7" r="7.8" fill="#F5441F" fill-opacity="0.8" stroke="#E04A30" stroke-opacity="0.5" stroke-width="0.8"/>
<circle cx="725.1" cy="1125.6" r="7.8" fill="#F5441F" fill-opacity="0.8" stroke="#E04A30" stroke-opacity="0.5" stroke-width="0.8"/>
<circle cx="709.2" cy="1135.7" r="7.8" fill="#F5441F" fill-opacity="0.8" stroke="#E04A30" stroke-opacity="0.5" stroke-width="0.8"/>
<circle cx="693.4" cy="1140.0" r="7.8" fill="#F5441F" fill-opacity="0.8" stroke="#E04A30" stroke-opacity="0.5" stroke-width="0.8"/>
<circle cx="740.5" cy="1164.1" r="7.8" fill="#F5441F" fill-opacity="0.8" stroke="#E04A30" stroke-opacity="0.5" stroke-width="0.8"/>
<circle cx="717.4" cy="1183.4" r="7.8" fill="#F5441F" fill-opacity="0.8" stroke="#E04A30" stroke-opacity="0.5" stroke-width="0.8"/>
<circle cx="907.9" cy="1124.7" r="7.8" fill="#F5441F" fill-opacity="0.8" stroke="#E04A30" stroke-opacity="0.5" stroke-width="0.8"/>
<text transform="translate(1033.0,852.0) scale(1,1.04)" font-size="43" text-anchor="start" fill="#111" stroke="#111" >f</text>
<text transform="translate(1346.0,882.7) scale(1,1.04)" font-size="38" text-anchor="middle" fill="#111" stroke="#111" >Hipp</text>
<line x1="1211.3" y1="943.2" x2="1211.3" y2="1347.6" stroke="#111" stroke-width="2.2" />
<line x1="1210.3" y1="1346.6" x2="1480.1" y2="1346.6" stroke="#111" stroke-width="2.2" />
<line x1="1211.3" y1="1346.6" x2="1211.3" y2="1362.1" stroke="#111" stroke-width="2.2" />
<text transform="translate(1220.3,1390.4) rotate(-45) scale(1,1.04)" font-size="38" text-anchor="end" fill="#111" stroke="#111">0.0</text>
<line x1="1264.9" y1="1346.6" x2="1264.9" y2="1362.1" stroke="#111" stroke-width="2.2" />
<text transform="translate(1273.9,1390.4) rotate(-45) scale(1,1.04)" font-size="38" text-anchor="end" fill="#111" stroke="#111">0.2</text>
<line x1="1318.4" y1="1346.6" x2="1318.4" y2="1362.1" stroke="#111" stroke-width="2.2" />
<text transform="translate(1327.4,1390.4) rotate(-45) scale(1,1.04)" font-size="38" text-anchor="end" fill="#111" stroke="#111">0.4</text>
<line x1="1372.0" y1="1346.6" x2="1372.0" y2="1362.1" stroke="#111" stroke-width="2.2" />
<text transform="translate(1381.0,1390.4) rotate(-45) scale(1,1.04)" font-size="38" text-anchor="end" fill="#111" stroke="#111">0.6</text>
<line x1="1425.5" y1="1346.6" x2="1425.5" y2="1362.1" stroke="#111" stroke-width="2.2" />
<text transform="translate(1434.5,1390.4) rotate(-45) scale(1,1.04)" font-size="38" text-anchor="end" fill="#111" stroke="#111">0.8</text>
<line x1="1479.1" y1="1346.6" x2="1479.1" y2="1362.1" stroke="#111" stroke-width="2.2" />
<text transform="translate(1488.1,1390.4) rotate(-45) scale(1,1.04)" font-size="38" text-anchor="end" fill="#111" stroke="#111">1.0</text>
<line x1="1195.3" y1="1346.6" x2="1211.3" y2="1346.6" stroke="#111" stroke-width="2.2" />
<text transform="translate(1189.6,1360.2) scale(1,1.04)" font-size="39" text-anchor="end" fill="#111" stroke="#111" >0</text>
<line x1="1195.3" y1="1266.1" x2="1211.3" y2="1266.1" stroke="#111" stroke-width="2.2" />
<text transform="translate(1189.6,1279.7) scale(1,1.04)" font-size="39" text-anchor="end" fill="#111" stroke="#111" >20</text>
<line x1="1195.3" y1="1185.6" x2="1211.3" y2="1185.6" stroke="#111" stroke-width="2.2" />
<text transform="translate(1189.6,1199.2) scale(1,1.04)" font-size="39" text-anchor="end" fill="#111" stroke="#111" >40</text>
<line x1="1195.3" y1="1105.2" x2="1211.3" y2="1105.2" stroke="#111" stroke-width="2.2" />
<text transform="translate(1189.6,1118.8) scale(1,1.04)" font-size="39" text-anchor="end" fill="#111" stroke="#111" >60</text>
<line x1="1195.3" y1="1024.7" x2="1211.3" y2="1024.7" stroke="#111" stroke-width="2.2" />
<text transform="translate(1189.6,1038.3) scale(1,1.04)" font-size="39" text-anchor="end" fill="#111" stroke="#111" >80</text>
<line x1="1195.3" y1="944.2" x2="1211.3" y2="944.2" stroke="#111" stroke-width="2.2" />
<text transform="translate(1189.6,957.8) scale(1,1.04)" font-size="39" text-anchor="end" fill="#111" stroke="#111" >100</text>
<text transform="translate(1112.0,1121.0) rotate(-90) scale(1,1.04)" font-size="38" text-anchor="middle" fill="#111" stroke="#111">CBF (mL 100g<tspan font-size="22" dy="-12.5">-1</tspan><tspan dy="12.5"> min</tspan><tspan font-size="22" dy="-12.5">-1</tspan><tspan dy="12.5">)</tspan></text>
<text transform="translate(1332.0,1483.0) scale(1,1.04)" font-size="38" text-anchor="middle" fill="#111" stroke="#111" >Guanidine Soluble</text>
<text transform="translate(1332.0,1528.7) scale(1,1.04)" font-size="38" text-anchor="middle" fill="#111" stroke="#111" textLength="342" lengthAdjust="spacingAndGlyphs">Aβ40 µg/mg protein</text>
<text transform="translate(1240.0,1290.4) scale(1,1.04)" font-size="30" text-anchor="start" fill="#D0101A" stroke="#D0101A" >r=0.12</text>
<text transform="translate(1240.0,1326.5) scale(1,1.04)" font-size="30" text-anchor="start" fill="#D0101A" stroke="#D0101A" >ns (n=28)</text>
<line x1="1243.6" y1="1098.0" x2="1397.4" y2="1080.3" stroke="#D22A1C" stroke-width="2.0" />
<circle cx="1248.4" cy="1041.8" r="7.9" fill="none" stroke="#DC4638" stroke-width="1.6"/>
<circle cx="1248.4" cy="1053.4" r="7.9" fill="none" stroke="#DC4638" stroke-width="1.6"/>
<circle cx="1242.6" cy="1063.5" r="7.9" fill="none" stroke="#DC4638" stroke-width="1.6"/>
<circle cx="1283.0" cy="1043.8" r="7.9" fill="none" stroke="#DC4638" stroke-width="1.6"/>
<circle cx="1280.6" cy="1063.5" r="7.9" fill="none" stroke="#DC4638" stroke-width="1.6"/>
<circle cx="1242.6" cy="1096.6" r="7.9" fill="none" stroke="#DC4638" stroke-width="1.6"/>
<circle cx="1304.6" cy="1086.0" r="7.9" fill="none" stroke="#DC4638" stroke-width="1.6"/>
<circle cx="1306.0" cy="1104.3" r="7.9" fill="none" stroke="#DC4638" stroke-width="1.6"/>
<circle cx="1320.5" cy="1072.6" r="7.9" fill="none" stroke="#DC4638" stroke-width="1.6"/>
<circle cx="1345.5" cy="1075.5" r="7.9" fill="none" stroke="#DC4638" stroke-width="1.6"/>
<circle cx="1385.4" cy="1035.6" r="7.9" fill="none" stroke="#DC4638" stroke-width="1.6"/>
<circle cx="1323.8" cy="1051.0" r="7.8" fill="#F5441F" fill-opacity="0.8" stroke="#E04A30" stroke-opacity="0.5" stroke-width="0.8"/>
<circle cx="1336.3" cy="1053.8" r="7.8" fill="#F5441F" fill-opacity="0.8" stroke="#E04A30" stroke-opacity="0.5" stroke-width="0.8"/>
<circle cx="1360.4" cy="1043.8" r="7.8" fill="#F5441F" fill-opacity="0.8" stroke="#E04A30" stroke-opacity="0.5" stroke-width="0.8"/>
<circle cx="1359.4" cy="1044.8" r="7.8" fill="#F5441F" fill-opacity="0.8" stroke="#E04A30" stroke-opacity="0.5" stroke-width="0.8"/>
<circle cx="1350.3" cy="1059.6" r="7.8" fill="#F5441F" fill-opacity="0.8" stroke="#E04A30" stroke-opacity="0.5" stroke-width="0.8"/>
<circle cx="1396.4" cy="1070.2" r="7.8" fill="#F5441F" fill-opacity="0.8" stroke="#E04A30" stroke-opacity="0.5" stroke-width="0.8"/>
<circle cx="1291.6" cy="1088.5" r="7.8" fill="#F5441F" fill-opacity="0.8" stroke="#E04A30" stroke-opacity="0.5" stroke-width="0.8"/>
<circle cx="1327.7" cy="1079.8" r="7.8" fill="#F5441F" fill-opacity="0.8" stroke="#E04A30" stroke-opacity="0.5" stroke-width="0.8"/>
<circle cx="1310.9" cy="1117.3" r="7.8" fill="#F5441F" fill-opacity="0.8" stroke="#E04A30" stroke-opacity="0.5" stroke-width="0.8"/>
<circle cx="1318.0" cy="1115.9" r="7.8" fill="#F5441F" fill-opacity="0.8" stroke="#E04A30" stroke-opacity="0.5" stroke-width="0.8"/>
<circle cx="1252.2" cy="1146.2" r="7.8" fill="#F5441F" fill-opacity="0.8" stroke="#E04A30" stroke-opacity="0.5" stroke-width="0.8"/>
<circle cx="1269.0" cy="1143.8" r="7.8" fill="#F5441F" fill-opacity="0.8" stroke="#E04A30" stroke-opacity="0.5" stroke-width="0.8"/>
<circle cx="1273.8" cy="1146.2" r="7.8" fill="#F5441F" fill-opacity="0.8" stroke="#E04A30" stroke-opacity="0.5" stroke-width="0.8"/>
<circle cx="1303.7" cy="1143.8" r="7.8" fill="#F5441F" fill-opacity="0.8" stroke="#E04A30" stroke-opacity="0.5" stroke-width="0.8"/>
<circle cx="1303.7" cy="1148.6" r="7.8" fill="#F5441F" fill-opacity="0.8" stroke="#E04A30" stroke-opacity="0.5" stroke-width="0.8"/>
<circle cx="1321.9" cy="1166.3" r="7.8" fill="#F5441F" fill-opacity="0.8" stroke="#E04A30" stroke-opacity="0.5" stroke-width="0.8"/>
<circle cx="1379.6" cy="1183.7" r="7.8" fill="#F5441F" fill-opacity="0.8" stroke="#E04A30" stroke-opacity="0.5" stroke-width="0.8"/>
<circle cx="1514.2" cy="1121.2" r="7.9" fill="none" stroke="#DC4638" stroke-width="1.6"/>
<circle cx="1514.2" cy="1169.2" r="7.8" fill="#F5441F" fill-opacity="0.8" stroke="#E04A30" stroke-opacity="0.5" stroke-width="0.8"/>
<text transform="translate(1539.0,1132.2) scale(1,1.04)" font-size="30" text-anchor="start" fill="#111" stroke="#111" font-style="italic" textLength="104.5" lengthAdjust="spacingAndGlyphs">E3+FAD</text>
<text transform="translate(1539.0,1178.8) scale(1,1.04)" font-size="30" text-anchor="start" fill="#111" stroke="#111" font-style="italic" textLength="104.5" lengthAdjust="spacingAndGlyphs">E4+FAD</text>
</svg>
</body></html>
